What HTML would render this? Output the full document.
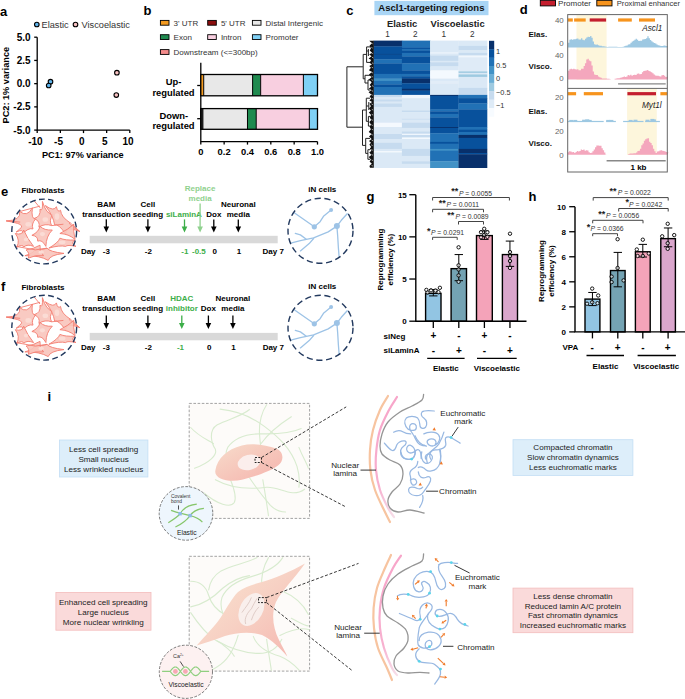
<!DOCTYPE html>
<html><head><meta charset="utf-8"><style>
html,body{margin:0;padding:0;background:#fff;}
svg{display:block;font-family:"Liberation Sans",sans-serif;}
</style></head><body>
<svg width="685" height="699" viewBox="0 0 685 699">
<text x="0" y="15.5" font-size="13" text-anchor="start" font-weight="bold" fill="#000"  >a</text>
<circle cx="36.8" cy="24.5" r="2.3" fill="#5fb4ec" stroke="#000" stroke-width="1.1"/>
<text x="41.6" y="27.6" font-size="9.2" text-anchor="start" font-weight="normal" fill="#333"  >Elastic</text>
<circle cx="75.5" cy="24.5" r="2.3" fill="#f9c2c2" stroke="#000" stroke-width="1.1"/>
<text x="81.6" y="27.6" font-size="9.2" text-anchor="start" font-weight="normal" fill="#333"  >Viscoelastic</text>
<path d="M37.2 37.2 V130.1 H129.8" fill="none" stroke="#000" stroke-width="1.3"/>
<line x1="34.2" y1="37.2" x2="37.2" y2="37.2" stroke="#000" stroke-width="1.3" />
<text x="30.6" y="40.7" font-size="10" text-anchor="end" font-weight="bold" fill="#000"  >5.0</text>
<line x1="34.2" y1="60.425" x2="37.2" y2="60.425" stroke="#000" stroke-width="1.3" />
<text x="30.6" y="63.925" font-size="10" text-anchor="end" font-weight="bold" fill="#000"  >2.5</text>
<line x1="34.2" y1="83.65" x2="37.2" y2="83.65" stroke="#000" stroke-width="1.3" />
<text x="30.6" y="87.15" font-size="10" text-anchor="end" font-weight="bold" fill="#000"  >0.0</text>
<line x1="34.2" y1="106.875" x2="37.2" y2="106.875" stroke="#000" stroke-width="1.3" />
<text x="30.6" y="110.375" font-size="10" text-anchor="end" font-weight="bold" fill="#000"  >-2.5</text>
<line x1="34.2" y1="130.1" x2="37.2" y2="130.1" stroke="#000" stroke-width="1.3" />
<text x="30.6" y="133.6" font-size="10" text-anchor="end" font-weight="bold" fill="#000"  >-5.0</text>
<line x1="37.2" y1="130.1" x2="37.2" y2="133.1" stroke="#000" stroke-width="1.3" />
<text x="35.400000000000006" y="144.8" font-size="10" text-anchor="middle" font-weight="bold" fill="#000"  >-10</text>
<line x1="60.35000000000001" y1="130.1" x2="60.35000000000001" y2="133.1" stroke="#000" stroke-width="1.3" />
<text x="58.55000000000001" y="144.8" font-size="10" text-anchor="middle" font-weight="bold" fill="#000"  >-5</text>
<line x1="83.5" y1="130.1" x2="83.5" y2="133.1" stroke="#000" stroke-width="1.3" />
<text x="81.7" y="144.8" font-size="10" text-anchor="middle" font-weight="bold" fill="#000"  >0</text>
<line x1="106.65" y1="130.1" x2="106.65" y2="133.1" stroke="#000" stroke-width="1.3" />
<text x="104.85000000000001" y="144.8" font-size="10" text-anchor="middle" font-weight="bold" fill="#000"  >5</text>
<line x1="129.8" y1="130.1" x2="129.8" y2="133.1" stroke="#000" stroke-width="1.3" />
<text x="128.0" y="144.8" font-size="10" text-anchor="middle" font-weight="bold" fill="#000"  >10</text>
<text x="82.8" y="158.4" font-size="9.2" text-anchor="middle" font-weight="bold" fill="#000"  >PC1: 97% variance</text>
<text x="0" y="0" font-size="9.2" text-anchor="middle" font-weight="bold" fill="#000"  transform="translate(9,85.2) rotate(-90)">PC2: 1% variance</text>
<circle cx="50.5" cy="81.7" r="2.3" fill="#5fb4ec" stroke="#000" stroke-width="1.1"/>
<circle cx="48.7" cy="85.5" r="2.3" fill="#5fb4ec" stroke="#000" stroke-width="1.1"/>
<circle cx="116.9" cy="72.7" r="2.3" fill="#f9c2c2" stroke="#000" stroke-width="1.1"/>
<circle cx="116.3" cy="95.1" r="2.3" fill="#f9c2c2" stroke="#000" stroke-width="1.1"/>
<text x="143.6" y="15.3" font-size="13" text-anchor="start" font-weight="bold" fill="#000"  >b</text>
<rect x="160.4" y="20.400000000000002" width="8.6" height="4.8" fill="#f39a1f" stroke="#000" stroke-width="0.9" />
<text x="173.6" y="25.6" font-size="8" text-anchor="start" font-weight="normal" fill="#333"  >3' UTR</text>
<rect x="207.7" y="20.400000000000002" width="8.6" height="4.8" fill="#8b0e0e" stroke="#000" stroke-width="0.9" />
<text x="220.89999999999998" y="25.6" font-size="8" text-anchor="start" font-weight="normal" fill="#333"  >5' UTR</text>
<rect x="252.4" y="20.400000000000002" width="8.6" height="4.8" fill="#e8e8e8" stroke="#000" stroke-width="0.9" />
<text x="265.6" y="25.6" font-size="8" text-anchor="start" font-weight="normal" fill="#333"  >Distal Intergenic</text>
<rect x="160.4" y="34.7" width="8.6" height="4.8" fill="#1f8a4f" stroke="#000" stroke-width="0.9" />
<text x="173.6" y="39.9" font-size="8" text-anchor="start" font-weight="normal" fill="#333"  >Exon</text>
<rect x="207.7" y="34.7" width="8.6" height="4.8" fill="#f8cfe0" stroke="#000" stroke-width="0.9" />
<text x="220.89999999999998" y="39.9" font-size="8" text-anchor="start" font-weight="normal" fill="#333"  >Intron</text>
<rect x="252.4" y="34.7" width="8.6" height="4.8" fill="#7fd0f5" stroke="#000" stroke-width="0.9" />
<text x="265.6" y="39.9" font-size="8" text-anchor="start" font-weight="normal" fill="#333"  >Promoter</text>
<rect x="160.4" y="49.6" width="8.6" height="4.8" fill="#f48c8c" stroke="#000" stroke-width="0.9" />
<text x="173.6" y="54.8" font-size="8" text-anchor="start" font-weight="normal" fill="#333"  >Downstream (&lt;=300bp)</text>
<path d="M200.8 62.8 V141.6 H317.5" fill="none" stroke="#000" stroke-width="1.3"/>
<line x1="200.8" y1="141.6" x2="200.8" y2="144.6" stroke="#000" stroke-width="1.3" />
<text x="200.8" y="154.6" font-size="9.4" text-anchor="middle" font-weight="bold" fill="#000"  >0</text>
<line x1="224.14000000000001" y1="141.6" x2="224.14000000000001" y2="144.6" stroke="#000" stroke-width="1.3" />
<text x="224.14000000000001" y="154.6" font-size="9.4" text-anchor="middle" font-weight="bold" fill="#000"  >0.2</text>
<line x1="247.48000000000002" y1="141.6" x2="247.48000000000002" y2="144.6" stroke="#000" stroke-width="1.3" />
<text x="247.48000000000002" y="154.6" font-size="9.4" text-anchor="middle" font-weight="bold" fill="#000"  >0.4</text>
<line x1="270.82" y1="141.6" x2="270.82" y2="144.6" stroke="#000" stroke-width="1.3" />
<text x="270.82" y="154.6" font-size="9.4" text-anchor="middle" font-weight="bold" fill="#000"  >0.6</text>
<line x1="294.15999999999997" y1="141.6" x2="294.15999999999997" y2="144.6" stroke="#000" stroke-width="1.3" />
<text x="294.15999999999997" y="154.6" font-size="9.4" text-anchor="middle" font-weight="bold" fill="#000"  >0.8</text>
<line x1="317.5" y1="141.6" x2="317.5" y2="144.6" stroke="#000" stroke-width="1.3" />
<text x="317.5" y="154.6" font-size="9.4" text-anchor="middle" font-weight="bold" fill="#000"  >1.0</text>
<line x1="197.20000000000002" y1="85.5" x2="200.8" y2="85.5" stroke="#000" stroke-width="1.3" />
<line x1="197.20000000000002" y1="118.7" x2="200.8" y2="118.7" stroke="#000" stroke-width="1.3" />
<text x="173.5" y="85" font-size="9.4" text-anchor="middle" font-weight="bold" fill="#000"  >Up-</text>
<text x="173.5" y="95.5" font-size="9.4" text-anchor="middle" font-weight="bold" fill="#000"  >regulated</text>
<text x="173.8" y="118.7" font-size="9.4" text-anchor="middle" font-weight="bold" fill="#000"  >Down-</text>
<text x="173.5" y="129.4" font-size="9.4" text-anchor="middle" font-weight="bold" fill="#000"  >regulated</text>
<rect x="200.8" y="74.5" width="2.9175" height="21.3" fill="#f39a1f" stroke="none" stroke-width="1" />
<rect x="203.7175" y="74.5" width="48.897299999999994" height="21.3" fill="#e8e8e8" stroke="none" stroke-width="1" />
<rect x="252.6148" y="74.5" width="8.0523" height="21.3" fill="#1f8a4f" stroke="none" stroke-width="1" />
<rect x="260.6671" y="74.5" width="42.712199999999996" height="21.3" fill="#f8cfe0" stroke="none" stroke-width="1" />
<rect x="303.3793" y="74.5" width="14.120699999999998" height="21.3" fill="#7fd0f5" stroke="none" stroke-width="1" />
<line x1="203.7175" y1="74.5" x2="203.7175" y2="95.8" stroke="#000" stroke-width="1" />
<line x1="252.6148" y1="74.5" x2="252.6148" y2="95.8" stroke="#000" stroke-width="1" />
<line x1="260.6671" y1="74.5" x2="260.6671" y2="95.8" stroke="#000" stroke-width="1" />
<line x1="303.3793" y1="74.5" x2="303.3793" y2="95.8" stroke="#000" stroke-width="1" />
<rect x="200.8" y="74.5" width="116.69999999999999" height="21.3" fill="none" stroke="#000" stroke-width="1.3" />
<rect x="200.8" y="108.6" width="2.1005999999999996" height="20.7" fill="#222" stroke="none" stroke-width="1" />
<rect x="202.9006" y="108.6" width="44.5794" height="20.7" fill="#e8e8e8" stroke="none" stroke-width="1" />
<rect x="247.48000000000002" y="108.6" width="8.7525" height="20.7" fill="#1f8a4f" stroke="none" stroke-width="1" />
<rect x="256.2325" y="108.6" width="53.098499999999994" height="20.7" fill="#f8cfe0" stroke="none" stroke-width="1" />
<rect x="309.331" y="108.6" width="8.169" height="20.7" fill="#7fd0f5" stroke="none" stroke-width="1" />
<line x1="202.9006" y1="108.6" x2="202.9006" y2="129.29999999999998" stroke="#000" stroke-width="1" />
<line x1="247.48000000000002" y1="108.6" x2="247.48000000000002" y2="129.29999999999998" stroke="#000" stroke-width="1" />
<line x1="256.2325" y1="108.6" x2="256.2325" y2="129.29999999999998" stroke="#000" stroke-width="1" />
<line x1="309.331" y1="108.6" x2="309.331" y2="129.29999999999998" stroke="#000" stroke-width="1" />
<rect x="200.8" y="108.6" width="116.69999999999999" height="20.7" fill="none" stroke="#000" stroke-width="1.3" />
<text x="346.2" y="14.6" font-size="13" text-anchor="start" font-weight="bold" fill="#000"  >c</text>
<rect x="374.4" y="0.9" width="114.1" height="14.3" fill="#a9d5f5" stroke="none" stroke-width="1" />
<text x="431.4" y="11" font-size="9.5" text-anchor="middle" font-weight="bold" fill="#111"  >Ascl1-targeting regions</text>
<text x="402.1" y="26.8" font-size="9.4" text-anchor="middle" font-weight="bold" fill="#222"  >Elastic</text>
<text x="457.6" y="26.8" font-size="9.4" text-anchor="middle" font-weight="bold" fill="#222"  >Viscoelastic</text>
<text x="387.5" y="37.3" font-size="8.2" text-anchor="middle" font-weight="normal" fill="#333"  >1</text>
<text x="415.3" y="37.3" font-size="8.2" text-anchor="middle" font-weight="normal" fill="#333"  >2</text>
<text x="443.9" y="37.3" font-size="8.2" text-anchor="middle" font-weight="normal" fill="#333"  >1</text>
<text x="472.2" y="37.3" font-size="8.2" text-anchor="middle" font-weight="normal" fill="#333"  >2</text>
<rect x="373.5" y="40.6" width="28.7" height="6.1" fill="#08306b"/>
<rect x="373.5" y="46.4" width="28.7" height="7.7" fill="#08519c"/>
<rect x="373.5" y="53.8" width="28.7" height="1.5" fill="#0a4a90"/>
<rect x="373.5" y="55" width="28.7" height="4.7" fill="#08519c"/>
<rect x="373.5" y="59.4" width="28.7" height="4.3" fill="#2171b5"/>
<rect x="373.5" y="63.4" width="28.7" height="10.8" fill="#08519c"/>
<rect x="373.5" y="73.9" width="28.7" height="5.0" fill="#2171b5"/>
<rect x="373.5" y="78.6" width="28.7" height="2.6" fill="#4292c6"/>
<rect x="373.5" y="80.9" width="28.7" height="3.8" fill="#2171b5"/>
<rect x="373.5" y="84.4" width="28.7" height="2.9" fill="#08519c"/>
<rect x="373.5" y="87" width="28.7" height="8.2" fill="#2171b5"/>
<rect x="373.5" y="94.9" width="28.7" height="2.7" fill="#c6dbef"/>
<rect x="373.5" y="97.3" width="28.7" height="2.4" fill="#dbe9f6"/>
<rect x="373.5" y="99.4" width="28.7" height="2.5" fill="#c6dbef"/>
<rect x="373.5" y="101.6" width="28.7" height="2.1" fill="#dbe9f6"/>
<rect x="373.5" y="103.4" width="28.7" height="3.8" fill="#c6dbef"/>
<rect x="373.5" y="106.9" width="28.7" height="16.1" fill="#dbe9f6"/>
<rect x="373.5" y="122.7" width="28.7" height="4.6" fill="#f4f9fe"/>
<rect x="373.5" y="127" width="28.7" height="7.3" fill="#dbe9f6"/>
<rect x="373.5" y="134" width="28.7" height="5.3" fill="#c6dbef"/>
<rect x="373.5" y="139" width="28.7" height="4.1" fill="#dbe9f6"/>
<rect x="373.5" y="142.8" width="28.7" height="6.4" fill="#c6dbef"/>
<rect x="373.5" y="148.9" width="28.7" height="2.6" fill="#dbe9f6"/>
<rect x="373.5" y="151.2" width="28.7" height="1.5" fill="#f4f9fe"/>
<rect x="373.5" y="152.4" width="28.7" height="15.6" fill="#dbe9f6"/>
<rect x="401.9" y="40.6" width="28.5" height="7.3" fill="#2171b5"/>
<rect x="401.9" y="47.6" width="28.5" height="1.6" fill="#08519c"/>
<rect x="401.9" y="48.9" width="28.5" height="2.0" fill="#2171b5"/>
<rect x="401.9" y="50.6" width="28.5" height="2.6" fill="#08519c"/>
<rect x="401.9" y="52.9" width="28.5" height="3.8" fill="#2171b5"/>
<rect x="401.9" y="56.4" width="28.5" height="7.3" fill="#08519c"/>
<rect x="401.9" y="63.4" width="28.5" height="7.3" fill="#2171b5"/>
<rect x="401.9" y="70.4" width="28.5" height="3.8" fill="#08519c"/>
<rect x="401.9" y="73.9" width="28.5" height="2.6" fill="#2171b5"/>
<rect x="401.9" y="76.2" width="28.5" height="2.7" fill="#08519c"/>
<rect x="401.9" y="78.6" width="28.5" height="4.9" fill="#08306b"/>
<rect x="401.9" y="83.2" width="28.5" height="5.9" fill="#08519c"/>
<rect x="401.9" y="88.8" width="28.5" height="2.1" fill="#08306b"/>
<rect x="401.9" y="90.6" width="28.5" height="4.6" fill="#08519c"/>
<rect x="401.9" y="94.9" width="28.5" height="3.5" fill="#f0f6fc"/>
<rect x="401.9" y="98.1" width="28.5" height="12.6" fill="#dbe9f6"/>
<rect x="401.9" y="110.4" width="28.5" height="2.0" fill="#c6dbef"/>
<rect x="401.9" y="112.1" width="28.5" height="6.5" fill="#dbe9f6"/>
<rect x="401.9" y="118.3" width="28.5" height="2.0" fill="#d0e2f3"/>
<rect x="401.9" y="120" width="28.5" height="3.0" fill="#dbe9f6"/>
<rect x="401.9" y="122.7" width="28.5" height="5.5" fill="#c6dbef"/>
<rect x="401.9" y="127.9" width="28.5" height="3.8" fill="#dbe9f6"/>
<rect x="401.9" y="131.4" width="28.5" height="2.6" fill="#c6dbef"/>
<rect x="401.9" y="133.7" width="28.5" height="1.5" fill="#f4f9fe"/>
<rect x="401.9" y="134.9" width="28.5" height="2.9" fill="#c6dbef"/>
<rect x="401.9" y="137.5" width="28.5" height="1.8" fill="#f4f9fe"/>
<rect x="401.9" y="139" width="28.5" height="10.2" fill="#dbe9f6"/>
<rect x="401.9" y="148.9" width="28.5" height="7.3" fill="#c6dbef"/>
<rect x="401.9" y="155.9" width="28.5" height="5.6" fill="#dbe9f6"/>
<rect x="401.9" y="161.2" width="28.5" height="2.9" fill="#c6dbef"/>
<rect x="401.9" y="163.8" width="28.5" height="4.2" fill="#dbe9f6"/>
<rect x="430.1" y="40.6" width="28.7" height="11.7" fill="#dbe9f6"/>
<rect x="430.1" y="52" width="28.7" height="2.1" fill="#e8f1fa"/>
<rect x="430.1" y="53.8" width="28.7" height="2.0" fill="#dbe9f6"/>
<rect x="430.1" y="55.5" width="28.7" height="5.6" fill="#c6dbef"/>
<rect x="430.1" y="60.8" width="28.7" height="1.7" fill="#dbe9f6"/>
<rect x="430.1" y="62.2" width="28.7" height="4.5" fill="#c6dbef"/>
<rect x="430.1" y="66.4" width="28.7" height="4.3" fill="#dbe9f6"/>
<rect x="430.1" y="70.4" width="28.7" height="8.5" fill="#f4f9fe"/>
<rect x="430.1" y="78.6" width="28.7" height="2.6" fill="#dbe9f6"/>
<rect x="430.1" y="80.9" width="28.7" height="3.3" fill="#e2edf8"/>
<rect x="430.1" y="83.9" width="28.7" height="11.3" fill="#dbe9f6"/>
<rect x="430.1" y="94.9" width="28.7" height="1.3" fill="#08306b"/>
<rect x="430.1" y="95.9" width="28.7" height="13.9" fill="#08519c"/>
<rect x="430.1" y="109.5" width="28.7" height="2.1" fill="#2171b5"/>
<rect x="430.1" y="111.3" width="28.7" height="2.9" fill="#08519c"/>
<rect x="430.1" y="113.9" width="28.7" height="3.8" fill="#2171b5"/>
<rect x="430.1" y="117.4" width="28.7" height="9.9" fill="#08519c"/>
<rect x="430.1" y="127" width="28.7" height="1.2" fill="#08306b"/>
<rect x="430.1" y="127.9" width="28.7" height="5.6" fill="#08519c"/>
<rect x="430.1" y="133.2" width="28.7" height="9.0" fill="#2171b5"/>
<rect x="430.1" y="141.9" width="28.7" height="2.1" fill="#08519c"/>
<rect x="430.1" y="143.7" width="28.7" height="5.5" fill="#2171b5"/>
<rect x="430.1" y="148.9" width="28.7" height="2.1" fill="#4292c6"/>
<rect x="430.1" y="150.7" width="28.7" height="10.8" fill="#2171b5"/>
<rect x="430.1" y="161.2" width="28.7" height="6.8" fill="#4292c6"/>
<rect x="458.5" y="40.6" width="28.8" height="5.6" fill="#dbe9f6"/>
<rect x="458.5" y="45.9" width="28.8" height="4.7" fill="#c6dbef"/>
<rect x="458.5" y="50.3" width="28.8" height="2.9" fill="#dbe9f6"/>
<rect x="458.5" y="52.9" width="28.8" height="2.9" fill="#c6dbef"/>
<rect x="458.5" y="55.5" width="28.8" height="2.1" fill="#f0f6fc"/>
<rect x="458.5" y="57.3" width="28.8" height="14.3" fill="#dfebf7"/>
<rect x="458.5" y="71.3" width="28.8" height="2.0" fill="#a6cde3"/>
<rect x="458.5" y="73" width="28.8" height="1.7" fill="#dbe9f6"/>
<rect x="458.5" y="74.4" width="28.8" height="2.8" fill="#9ecae1"/>
<rect x="458.5" y="76.9" width="28.8" height="11.3" fill="#dbe9f6"/>
<rect x="458.5" y="87.9" width="28.8" height="7.3" fill="#c6dbef"/>
<rect x="458.5" y="94.9" width="28.8" height="3.5" fill="#2171b5"/>
<rect x="458.5" y="98.1" width="28.8" height="5.6" fill="#08519c"/>
<rect x="458.5" y="103.4" width="28.8" height="6.4" fill="#2171b5"/>
<rect x="458.5" y="109.5" width="28.8" height="17.8" fill="#08519c"/>
<rect x="458.5" y="127" width="28.8" height="3.0" fill="#2171b5"/>
<rect x="458.5" y="129.7" width="28.8" height="2.6" fill="#08519c"/>
<rect x="458.5" y="132" width="28.8" height="3.2" fill="#2171b5"/>
<rect x="458.5" y="134.9" width="28.8" height="3.3" fill="#08306b"/>
<rect x="458.5" y="137.9" width="28.8" height="11.3" fill="#08519c"/>
<rect x="458.5" y="148.9" width="28.8" height="4.4" fill="#08306b"/>
<rect x="458.5" y="153" width="28.8" height="1.5" fill="#08519c"/>
<rect x="458.5" y="154.2" width="28.8" height="13.8" fill="#08306b"/>
<rect x="489" y="40.80" width="5.2" height="8.70" fill="#08306b"/>
<rect x="489" y="49.20" width="5.2" height="8.70" fill="#08519c"/>
<rect x="489" y="57.60" width="5.2" height="8.70" fill="#2171b5"/>
<rect x="489" y="66.00" width="5.2" height="8.70" fill="#4292c6"/>
<rect x="489" y="74.40" width="5.2" height="8.70" fill="#6baed6"/>
<rect x="489" y="82.80" width="5.2" height="8.70" fill="#9ecae1"/>
<rect x="489" y="91.20" width="5.2" height="8.70" fill="#c6dbef"/>
<rect x="489" y="99.60" width="5.2" height="8.70" fill="#deebf7"/>
<rect x="489" y="108.00" width="5.2" height="8.70" fill="#f7fbff"/>
<text x="496" y="53.7" font-size="7.4" text-anchor="start" font-weight="normal" fill="#333"  >1</text>
<text x="496" y="67.5" font-size="7.4" text-anchor="start" font-weight="normal" fill="#333"  >0.5</text>
<text x="496" y="81.3" font-size="7.4" text-anchor="start" font-weight="normal" fill="#333"  >0</text>
<text x="496" y="94.9" font-size="7.4" text-anchor="start" font-weight="normal" fill="#333"  >−0.5</text>
<text x="496" y="108.3" font-size="7.4" text-anchor="start" font-weight="normal" fill="#333"  >−1</text>
<path d="M362.9 66.8 H346.9 V127.2 H362.5 M363.2 54.4 V78.8 M363.2 54.4 H366.6 M366.6 46.9 V62.4 M366.6 46.9 H370 M366.6 62.4 H370 M363.2 78.8 H365 M365 75.3 V83 M365 75.3 H370 M365 83 H368 M368 80 V90 M368 80 H370 M368 90 H370 M366.6 51 H368.4 M368.4 49 V56 M362.5 110 V145.4 M362.5 110 H366.3 M366.3 98.2 V121.3 M366.3 98.2 H370 M366.3 121.3 H368.4 M368.4 116.4 V126.1 M368.4 116.4 H370 M368.4 126.1 H370 M362.5 145.4 H365.7 M365.7 138.4 V153.4 M365.7 138.4 H370 M365.7 153.4 H367.9 M367.9 149.7 V159.3 M367.9 149.7 H370 M367.9 159.3 H370 M366.3 106 H368.8 M368.8 102 V110 " fill="none" stroke="#222" stroke-width="1"/>
<polygon points="373.8,40.8 369.3,40.8 371.9,43.2 369.5,45.8 370.9,48.4 369.7,50.5 372.0,52.8 369.2,54.4 371.6,56.2 368.6,58.4 371.2,60.1 369.5,62.7 371.9,64.4 369.3,66.1 370.9,67.8 368.9,70.3 372.1,72.1 368.9,74.6 371.5,77.3 368.8,79.6 371.7,82.2 369.7,84.9 371.3,86.7 368.8,88.4 371.3,90.0 368.6,92.2 371.3,94.5 369.6,96.4 371.3,98.5 369.4,100.6 372.1,102.1 369.5,103.7 370.9,106.2 369.0,108.6 370.9,110.8 368.8,112.4 371.1,115.0 369.7,117.4 371.3,120.1 369.2,122.0 371.0,124.4 369.6,126.8 370.9,129.3 368.7,132.0 371.6,133.9 369.0,136.5 371.6,139.1 369.0,141.0 371.0,142.7 369.4,144.4 371.1,147.1 369.8,148.6 371.4,150.8 369.3,152.5 371.4,155.0 368.7,157.0 370.9,159.6 369.6,161.7 371.8,163.4 369.4,166.0 370.0,167.8 373.8,167.8" fill="#111"/>
<path d="M371.3 43.0 l1.4 0.8 M371.3 47.3 l1.4 0.8 M371.4 52.8 l1.4 0.8 M372.0 57.2 l1.4 0.8 M372.0 62.8 l1.4 0.8 M371.6 67.1 l1.4 0.8 M371.6 72.3 l1.4 0.8 M371.5 76.2 l1.4 0.8 M371.5 79.6 l1.4 0.8 M372.0 85.6 l1.4 0.8 M371.6 90.5 l1.4 0.8 M371.3 94.5 l1.4 0.8 M371.8 98.3 l1.4 0.8 M371.5 103.9 l1.4 0.8 M371.8 109.3 l1.4 0.8 M371.7 114.3 l1.4 0.8 M371.5 119.6 l1.4 0.8 M371.4 124.7 l1.4 0.8 M371.8 129.2 l1.4 0.8 M371.4 134.3 l1.4 0.8 M371.7 140.1 l1.4 0.8 M371.2 144.8 l1.4 0.8 M371.4 149.5 l1.4 0.8 M371.6 154.5 l1.4 0.8 M371.7 159.9 l1.4 0.8 M371.5 165.3 l1.4 0.8" stroke="#fff" stroke-width="0.6" fill="none"/>
<text x="519.8" y="13.9" font-size="13" text-anchor="start" font-weight="bold" fill="#000"  >d</text>
<rect x="540.3" y="0.3" width="15.2" height="5.6" fill="#c41e2e" stroke="#000" stroke-width="0.9" />
<text x="558.1" y="5.9" font-size="8" text-anchor="start" font-weight="normal" fill="#333"  >Promoter</text>
<rect x="596.8" y="0.3" width="15.2" height="5.6" fill="#f7941d" stroke="#000" stroke-width="0.9" />
<text x="616.8" y="5.9" font-size="7.6" text-anchor="start" font-weight="normal" fill="#333"  >Proximal enhancer</text>
<rect x="576.5" y="14.8" width="30.1" height="65.1" fill="#fdf6dc" stroke="none" stroke-width="1" />
<rect x="627.1" y="88.6" width="29.7" height="66.4" fill="#fdf6dc" stroke="none" stroke-width="1" />
<rect x="567.7" y="18.4" width="5.099999999999909" height="3.2" fill="#f7941d" stroke="none" stroke-width="1" />
<rect x="574.1" y="18.4" width="11.600000000000023" height="3.2" fill="#f7941d" stroke="none" stroke-width="1" />
<rect x="589.7" y="18.4" width="16.399999999999977" height="3.2" fill="#c41e2e" stroke="none" stroke-width="1" />
<rect x="618.1" y="18.4" width="13.699999999999932" height="3.2" fill="#f7941d" stroke="none" stroke-width="1" />
<rect x="639" y="18.4" width="16" height="3.2" fill="#f7941d" stroke="none" stroke-width="1" />
<rect x="567.7" y="92.1" width="8.399999999999977" height="3.2" fill="#f7941d" stroke="none" stroke-width="1" />
<rect x="583.8" y="92.1" width="19.200000000000045" height="3.2" fill="#f7941d" stroke="none" stroke-width="1" />
<rect x="627.4" y="92.1" width="28.600000000000023" height="3.2" fill="#c41e2e" stroke="none" stroke-width="1" />
<rect x="660.4" y="92.1" width="6.899999999999977" height="3.2" fill="#f7941d" stroke="none" stroke-width="1" />
<polygon points="568.03,47.42 568.03,42.63 569.33,42.63 569.33,39.68 570.63,39.68 570.63,39.24 571.93,39.24 571.93,39.82 573.23,39.82 573.23,39.34 574.53,39.34 574.53,39.21 575.83,39.21 575.83,38.73 577.13,38.73 577.13,38.50 578.43,38.50 578.43,39.47 579.73,39.47 579.73,39.51 581.03,39.51 581.03,38.20 582.33,38.20 582.33,39.78 583.63,39.78 583.63,40.26 584.93,40.26 584.93,38.78 586.23,38.78 586.23,37.51 587.53,37.51 587.53,36.78 588.83,36.78 588.83,36.92 590.13,36.92 590.13,35.94 591.43,35.94 591.43,37.77 592.73,37.77 592.73,41.59 594.03,41.59 594.03,44.20 595.33,44.20 595.33,44.63 596.63,44.63 596.63,44.44 597.93,44.44 597.93,45.33 599.23,45.33 599.23,45.71 600.53,45.71 600.53,45.73 601.83,45.73 601.83,46.22 603.13,46.22 603.13,46.27 604.43,46.27 604.43,46.43 605.73,46.43 605.73,46.73 607.03,46.73 607.03,46.92 608.33,46.92 608.33,46.72 609.63,46.72 609.63,46.72 610.93,46.72 610.93,46.63 612.23,46.63 612.23,46.69 613.53,46.69 613.53,46.82 614.83,46.82 614.83,46.63 616.13,46.63 616.13,46.81 617.43,46.81 617.43,46.88 618.73,46.88 618.73,47.08 620.03,47.08 620.03,47.10 621.33,47.10 621.33,47.11 622.63,47.11 622.63,46.82 623.93,46.82 623.93,46.33 625.23,46.33 625.23,45.73 626.53,45.73 626.53,45.38 627.83,45.38 627.83,44.56 629.13,44.56 629.13,44.18 630.43,44.18 630.43,42.63 631.73,42.63 631.73,41.61 633.03,41.61 633.03,40.83 634.33,40.83 634.33,39.72 635.63,39.72 635.63,38.79 636.93,38.79 636.93,39.69 638.23,39.69 638.23,41.01 639.53,41.01 639.53,40.77 640.83,40.77 640.83,40.63 642.13,40.63 642.13,39.38 643.43,39.38 643.43,39.25 644.73,39.25 644.73,38.97 646.03,38.97 646.03,38.13 647.33,38.13 647.33,36.30 648.63,36.30 648.63,38.33 649.93,38.33 649.93,40.00 651.23,40.00 651.23,41.29 652.53,41.29 652.53,42.15 653.83,42.15 653.83,43.02 655.13,43.02 655.13,43.52 656.43,43.52 656.43,44.54 657.73,44.54 657.73,45.32 659.03,45.32 659.03,45.45 660.33,45.45 660.33,45.97 661.63,45.97 661.63,46.06 662.93,46.06 662.93,45.67 664.23,45.67 664.23,45.58 665.53,45.58 665.53,45.95 666.83,45.95 666.83,46.17 668.13,46.17 667.27,47.42" fill="#9dc8e2"/>
<polygon points="568.03,79.54 568.03,70.73 569.33,70.73 569.33,69.13 570.63,69.13 570.63,68.69 571.93,68.69 571.93,69.14 573.23,69.14 573.23,68.76 574.53,68.76 574.53,69.28 575.83,69.28 575.83,69.45 577.13,69.45 577.13,69.34 578.43,69.34 578.43,70.31 579.73,70.31 579.73,70.24 581.03,70.24 581.03,68.65 582.33,68.65 582.33,68.76 583.63,68.76 583.63,65.95 584.93,65.95 584.93,63.16 586.23,63.16 586.23,59.59 587.53,59.59 587.53,58.82 588.83,58.82 588.83,60.38 590.13,60.38 590.13,61.22 591.43,61.22 591.43,65.41 592.73,65.41 592.73,71.60 594.03,71.60 594.03,74.40 595.33,74.40 595.33,74.98 596.63,74.98 596.63,75.07 597.93,75.07 597.93,76.51 599.23,76.51 599.23,77.33 600.53,77.33 600.53,77.71 601.83,77.71 601.83,78.54 603.13,78.54 603.13,78.54 604.43,78.54 604.43,78.55 605.73,78.55 605.73,78.61 607.03,78.61 607.03,78.78 608.33,78.78 608.33,78.87 609.63,78.87 609.63,79.19 610.93,79.19 610.93,79.50 612.23,79.50 611.07,79.54" fill="#f4a7bd"/>
<polygon points="614.60,79.54 614.60,78.87 615.90,78.87 615.90,78.38 617.20,78.38 617.20,78.20 618.50,78.20 618.50,78.25 619.80,78.25 619.80,77.76 621.10,77.76 621.10,77.48 622.40,77.48 622.40,76.93 623.70,76.93 623.70,76.41 625.00,76.41 625.00,76.95 626.30,76.95 626.30,76.58 627.60,76.58 627.60,75.03 628.90,75.03 628.90,75.40 630.20,75.40 630.20,74.74 631.50,74.74 631.50,75.74 632.80,75.74 632.80,75.12 634.10,75.12 634.10,74.67 635.40,74.67 635.40,75.04 636.70,75.04 636.70,73.71 638.00,73.71 638.00,73.45 639.30,73.45 639.30,74.34 640.60,74.34 640.60,73.89 641.90,73.89 641.90,72.31 643.20,72.31 643.20,70.88 644.50,70.88 644.50,70.80 645.80,70.80 645.80,70.48 647.10,70.48 647.10,69.93 648.40,69.93 648.40,70.93 649.70,70.93 649.70,71.55 651.00,71.55 651.00,72.29 652.30,72.29 652.30,73.21 653.60,73.21 653.60,74.55 654.90,74.55 654.90,75.45 656.20,75.45 656.20,75.80 657.50,75.80 657.50,75.78 658.80,75.78 658.80,76.14 660.10,76.14 660.10,76.51 661.40,76.51 661.40,75.26 662.70,75.26 662.70,75.00 664.00,75.00 664.00,75.66 665.30,75.66 665.30,77.11 666.60,77.11 666.60,76.65 667.90,76.65 667.27,79.54" fill="#f4a7bd"/>
<rect x="567.7083667897864" y="120.9" width="35.97237835233659" height="1.2" fill="#9dc8e2" stroke="none" stroke-width="1" />
<rect x="606.0896097639313" y="120.9" width="9.796049462020164" height="1.2" fill="#9dc8e2" stroke="none" stroke-width="1" />
<rect x="623.1122530913763" y="120.9" width="20.395053797976516" height="1.2" fill="#9dc8e2" stroke="none" stroke-width="1" />
<rect x="645.1132166372249" y="120.9" width="14.774369680424002" height="1.2" fill="#9dc8e2" stroke="none" stroke-width="1" />
<rect x="569.2413682351051" y="119.9" width="4" height="1.2" fill="#9dc8e2" stroke="none" stroke-width="1" />
<rect x="573.2561426047856" y="119.9" width="4" height="1.2" fill="#9dc8e2" stroke="none" stroke-width="1" />
<rect x="582.0886462180825" y="119.7" width="4" height="1.4" fill="#9dc8e2" stroke="none" stroke-width="1" />
<rect x="585.3004657138268" y="119.30000000000001" width="4" height="1.8" fill="#9dc8e2" stroke="none" stroke-width="1" />
<rect x="587.7093303356352" y="119.9" width="4" height="1.2" fill="#9dc8e2" stroke="none" stroke-width="1" />
<rect x="606.1772924361651" y="119.9" width="4" height="1.2" fill="#9dc8e2" stroke="none" stroke-width="1" />
<rect x="609.3891119319094" y="119.9" width="4" height="1.2" fill="#9dc8e2" stroke="none" stroke-width="1" />
<rect x="628.6600289063755" y="119.9" width="4" height="1.2" fill="#9dc8e2" stroke="none" stroke-width="1" />
<rect x="633.4777581499919" y="119.7" width="4" height="1.4" fill="#9dc8e2" stroke="none" stroke-width="1" />
<rect x="645.5220812590333" y="119.7" width="4" height="1.4" fill="#9dc8e2" stroke="none" stroke-width="1" />
<rect x="650.3398105026497" y="118.9" width="4" height="2.2" fill="#9dc8e2" stroke="none" stroke-width="1" />
<rect x="651.945720250522" y="119.4" width="4" height="1.7" fill="#9dc8e2" stroke="none" stroke-width="1" />
<polygon points="567.71,154.73 567.71,152.34 569.01,152.34 569.01,151.37 570.31,151.37 570.31,151.49 571.61,151.49 571.61,152.17 572.91,152.17 572.91,151.90 574.21,151.90 574.21,152.97 575.51,152.97 575.51,152.11 576.81,152.11 576.81,151.06 578.11,151.06 578.11,151.39 579.41,151.39 579.41,150.88 580.71,150.88 580.71,149.62 582.01,149.62 582.01,150.06 583.31,150.06 583.31,149.61 584.61,149.61 584.61,150.78 585.91,150.78 585.91,150.27 587.21,150.27 587.21,150.49 588.51,150.49 588.51,152.21 589.81,152.21 589.81,153.05 591.11,153.05 591.11,152.75 592.41,152.75 592.41,151.31 593.71,151.31 593.71,149.58 595.01,149.58 595.01,147.29 596.31,147.29 596.31,145.43 597.61,145.43 597.61,145.58 598.91,145.58 598.91,145.82 600.21,145.82 600.21,145.63 601.51,145.63 601.51,148.35 602.81,148.35 602.81,150.33 604.11,150.33 604.11,152.60 605.41,152.60 605.41,154.52 606.71,154.52 605.77,154.73" fill="#f4a7bd"/>
<polygon points="628.25,154.73 628.25,153.93 629.55,153.93 629.55,153.48 630.85,153.48 630.85,153.39 632.15,153.39 632.15,153.57 633.45,153.57 633.45,153.31 634.75,153.31 634.75,153.23 636.05,153.23 636.05,152.46 637.35,152.46 637.35,151.04 638.65,151.04 638.65,150.84 639.95,150.84 639.95,148.69 641.25,148.69 641.25,145.28 642.55,145.28 642.55,143.51 643.85,143.51 643.85,140.64 645.15,140.64 645.15,139.36 646.45,139.36 646.45,138.48 647.75,138.48 647.75,138.34 649.05,138.34 649.05,141.63 650.35,141.63 650.35,142.92 651.65,142.92 651.65,145.26 652.95,145.26 652.95,148.84 654.25,148.84 654.25,151.32 655.55,151.32 655.55,153.10 656.85,153.10 656.85,151.55 658.15,151.55 658.15,151.21 659.45,151.21 659.45,150.40 660.75,150.40 660.75,150.14 662.05,150.14 662.05,150.82 663.35,150.82 663.35,151.01 664.65,151.01 664.65,151.57 665.95,151.57 665.95,151.97 667.25,151.97 667.25,152.48 668.55,152.48 667.27,154.73" fill="#f4a7bd"/>
<rect x="567.7" y="14.6" width="99.6" height="157.4" fill="none" stroke="#666" stroke-width="1" />
<line x1="567.7" y1="88.4" x2="667.3" y2="88.4" stroke="#666" stroke-width="1" />
<line x1="618.1" y1="83.9" x2="665.7" y2="83.9" stroke="#888" stroke-width="1.4" />
<line x1="606.6" y1="160.7" x2="665.7" y2="160.7" stroke="#888" stroke-width="1.4" />
<text x="638.5" y="169.5" font-size="8" text-anchor="middle" font-weight="bold" fill="#000"  >1 kb</text>
<text x="662.3" y="31.4" font-size="8.2" text-anchor="end" font-weight="normal" fill="#222"  font-style="italic">Ascl1</text>
<text x="661.6" y="107.5" font-size="8.2" text-anchor="end" font-weight="normal" fill="#222"  font-style="italic">Myt1l</text>
<text x="563.7" y="23.400000000000002" font-size="7.9" text-anchor="end" font-weight="normal" fill="#666"  >40</text>
<text x="563.7" y="45.9" font-size="7.9" text-anchor="end" font-weight="normal" fill="#666"  >0</text>
<text x="563.7" y="57.5" font-size="7.9" text-anchor="end" font-weight="normal" fill="#666"  >40</text>
<text x="563.7" y="80.7" font-size="7.9" text-anchor="end" font-weight="normal" fill="#666"  >0</text>
<text x="563.7" y="100.1" font-size="7.9" text-anchor="end" font-weight="normal" fill="#666"  >20</text>
<text x="563.7" y="122.8" font-size="7.9" text-anchor="end" font-weight="normal" fill="#666"  >0</text>
<text x="563.7" y="134.20000000000002" font-size="7.9" text-anchor="end" font-weight="normal" fill="#666"  >20</text>
<text x="563.7" y="157.5" font-size="7.9" text-anchor="end" font-weight="normal" fill="#666"  >0</text>
<text x="528.5" y="37" font-size="8" text-anchor="start" font-weight="bold" fill="#111"  >Elas.</text>
<text x="528.5" y="69.3" font-size="8" text-anchor="start" font-weight="bold" fill="#111"  >Visco.</text>
<text x="528.5" y="114" font-size="8" text-anchor="start" font-weight="bold" fill="#111"  >Elas.</text>
<text x="528.5" y="146.3" font-size="8" text-anchor="start" font-weight="bold" fill="#111"  >Visco.</text>
<text x="1" y="195.8" font-size="13" text-anchor="start" font-weight="bold" fill="#000"  >e</text>
<text x="43" y="193.3" font-size="8" text-anchor="middle" font-weight="bold" fill="#000"  >Fibroblasts</text>
<g>
<path d="M6.2,220.9 Q21.4,220.6 19.6,211.4 Q27.3,217.6 32.4,207.8 Q30.9,219.3 35.6,218.9 Q31.0,224.1 33.0,228.9 Q28.1,227.5 22.5,234.1 Q24.3,228.2 16.1,232.1 Q23.9,226.2 20.8,225.4 Q21.7,223.7 6.2,220.9Z" fill="#f8c4bb" fill-opacity="0.9" stroke="#f47d71" stroke-width="0.9" stroke-linejoin="round"/>
<path d="M42.4,201.4 Q43.0,212.7 40.0,209.0 Q40.9,216.9 34.2,218.4 Q40.6,221.4 38.9,227.1 Q45.0,223.2 51.7,225.6 Q48.5,220.2 52.9,214.9 Q46.2,214.1 42.4,201.4Z" fill="#f8c4bb" fill-opacity="0.9" stroke="#f47d71" stroke-width="0.9" stroke-linejoin="round"/>
<path d="M45.3,205.5 Q53.9,211.9 56.4,206.7 Q57.7,213.1 60.5,210.2 Q61.2,217.2 70.4,223.0 Q66.0,222.5 79.7,231.4 Q64.9,225.3 65.7,234.1 Q58.6,223.6 54.6,224.8 Q53.5,216.5 45.3,205.5Z" fill="#f8c4bb" fill-opacity="0.9" stroke="#f47d71" stroke-width="0.9" stroke-linejoin="round"/>
<path d="M31.9,235.3 Q38.8,232.0 40.0,226.3 Q44.5,230.6 52.3,230.0 Q46.1,236.1 45.9,246.4 Q42.1,239.2 37.7,241.1 Q38.2,236.1 31.9,235.3Z" fill="#f8c4bb" fill-opacity="0.9" stroke="#f47d71" stroke-width="0.9" stroke-linejoin="round"/>
<path d="M48.8,248.1 Q58.2,242.8 59.9,238.2 Q65.4,240.5 75.1,240.0 Q69.8,242.8 76.0,246.4 Q67.2,244.5 65.7,246.4 Q59.8,245.0 48.8,248.1Z" fill="#f8c4bb" fill-opacity="0.9" stroke="#f47d71" stroke-width="0.9" stroke-linejoin="round"/>
<path d="M24.9,255.7 Q36.5,252.4 34.2,248.1 Q42.1,250.5 47.0,248.1 Q49.5,251.8 64.0,253.4 Q49.8,254.9 48.2,260.4 Q40.0,255.4 24.9,255.7Z" fill="#f8c4bb" fill-opacity="0.9" stroke="#f47d71" stroke-width="0.9" stroke-linejoin="round"/>
<path d="M15.3,233.5 Q22.4,235.5 23.7,230.0 Q27.5,239.0 33.6,246.4 Q27.5,243.7 23.7,247.0 Q22.8,243.9 16.7,247.3 Q20.5,240.2 15.3,233.5Z" fill="#f8c4bb" fill-opacity="0.9" stroke="#f47d71" stroke-width="0.9" stroke-linejoin="round"/>
<path d="M59.9,233.5 Q68.3,229.3 73.9,224.2 Q72.9,231.1 75.1,239.4 Q68.6,233.9 59.9,233.5Z" fill="#f8c4bb" fill-opacity="0.9" stroke="#f47d71" stroke-width="0.9" stroke-linejoin="round"/>
<path d="M26.0,249.9 Q33.5,249.0 40.0,245.2 Q38.8,250.7 43.5,255.7 Q35.2,254.6 28.4,258.1 Q30.0,252.8 26.0,249.9Z" fill="#f8c4bb" fill-opacity="0.9" stroke="#f47d71" stroke-width="0.9" stroke-linejoin="round"/>
<ellipse cx="28.4" cy="224.2" rx="3.0" ry="2.3" fill="#fbdcd5"/>
<ellipse cx="45.3" cy="219.5" rx="2.8" ry="2.3" fill="#fbdcd5"/>
<ellipse cx="57.0" cy="216.6" rx="2.3" ry="3.3" fill="#fbdcd5"/>
<ellipse cx="42.4" cy="234.1" rx="2.6" ry="2.1" fill="#fbdcd5"/>
<ellipse cx="62.2" cy="242.3" rx="3.3" ry="1.9" fill="#fbdcd5"/>
<ellipse cx="41.2" cy="252.2" rx="2.8" ry="1.6" fill="#fbdcd5"/>
<ellipse cx="26.0" cy="239.4" rx="2.1" ry="1.9" fill="#fbdcd5"/>
<polyline points="6.2,220.9 20.2,222.1" fill="none" stroke="#f47d71" stroke-width="0.9"/>
<polyline points="70.4,223.0 79.7,231.4" fill="none" stroke="#f47d71" stroke-width="0.9"/>
<polyline points="34.2,200.8 40.0,207.8" fill="none" stroke="#f47d71" stroke-width="0.9"/>
<polyline points="16.1,246.4 35.4,249.9 47.0,248.1" fill="none" stroke="#f47d71" stroke-width="0.9"/>
<polyline points="20.2,211.4 40.0,206.1" fill="none" stroke="#f47d71" stroke-width="0.9"/>
<polyline points="51.7,225.6 63.4,224.2" fill="none" stroke="#f47d71" stroke-width="0.9"/>
</g>
<circle cx="44.2" cy="231.5" r="32.4" fill="none" stroke="#22395e" stroke-width="1.4" stroke-dasharray="5.8 3.4"/>
<text x="106.4" y="207" font-size="8" text-anchor="middle" font-weight="bold" fill="#000"  >BAM</text>
<text x="106.4" y="216.8" font-size="8" text-anchor="middle" font-weight="bold" fill="#000"  >transduction</text>
<text x="147.9" y="207" font-size="8" text-anchor="middle" font-weight="bold" fill="#000"  >Cell</text>
<text x="147.9" y="216.8" font-size="8" text-anchor="middle" font-weight="bold" fill="#000"  >seeding</text>
<text x="183.9" y="216.8" font-size="8" text-anchor="middle" font-weight="bold" fill="#3dae49"  >siLaminA</text>
<text x="200.1" y="191" font-size="8" text-anchor="middle" font-weight="bold" fill="#8fd18e"  >Replace</text>
<text x="200.1" y="201" font-size="8" text-anchor="middle" font-weight="bold" fill="#8fd18e"  >media</text>
<text x="213.8" y="216.8" font-size="8" text-anchor="middle" font-weight="bold" fill="#000"  >Dox</text>
<text x="238.3" y="207" font-size="8" text-anchor="middle" font-weight="bold" fill="#000"  >Neuronal</text>
<text x="238.3" y="216.8" font-size="8" text-anchor="middle" font-weight="bold" fill="#000"  >media</text>
<line x1="106.3" y1="219.2" x2="106.3" y2="228.6" stroke="#000" stroke-width="1.3"/>
<polygon points="103.5,226.6 109.1,226.6 106.3,232.6" fill="#000"/>
<line x1="147.9" y1="219.2" x2="147.9" y2="228.6" stroke="#000" stroke-width="1.3"/>
<polygon points="145.1,226.6 150.70000000000002,226.6 147.9,232.6" fill="#000"/>
<line x1="184.5" y1="219.4" x2="184.5" y2="228.6" stroke="#3dae49" stroke-width="1.3"/>
<polygon points="181.7,226.6 187.3,226.6 184.5,232.6" fill="#3dae49"/>
<line x1="200.1" y1="203.5" x2="200.1" y2="228.6" stroke="#8fd18e" stroke-width="1.3"/>
<polygon points="197.29999999999998,226.6 202.9,226.6 200.1,232.6" fill="#8fd18e"/>
<line x1="213.8" y1="219.4" x2="213.8" y2="228.6" stroke="#000" stroke-width="1.3"/>
<polygon points="211.0,226.6 216.60000000000002,226.6 213.8,232.6" fill="#000"/>
<line x1="238.3" y1="219.4" x2="238.3" y2="228.6" stroke="#000" stroke-width="1.3"/>
<polygon points="235.5,226.6 241.10000000000002,226.6 238.3,232.6" fill="#000"/>
<rect x="89.7" y="235.8" width="188" height="7.5" fill="#d9d9d9" stroke="none" stroke-width="1" />
<text x="80.9" y="253.6" font-size="8" text-anchor="start" font-weight="bold" fill="#000"  >Day</text>
<text x="106.3" y="253.6" font-size="8" text-anchor="middle" font-weight="bold" fill="#000"  >-3</text>
<text x="148.3" y="253.6" font-size="8" text-anchor="middle" font-weight="bold" fill="#000"  >-2</text>
<text x="184.9" y="253.6" font-size="8" text-anchor="middle" font-weight="bold" fill="#3dae49"  >-1</text>
<text x="198.9" y="253.6" font-size="8" text-anchor="middle" font-weight="bold" fill="#3dae49"  >-0.5</text>
<text x="214.7" y="253.6" font-size="8" text-anchor="middle" font-weight="bold" fill="#000"  >0</text>
<text x="238.9" y="253.6" font-size="8" text-anchor="middle" font-weight="bold" fill="#000"  >1</text>
<text x="283.9" y="253.6" font-size="8" text-anchor="end" font-weight="bold" fill="#000"  >Day 7</text>
<text x="322.3" y="192.3" font-size="8" text-anchor="middle" font-weight="bold" fill="#000"  >iN cells</text>
<path d="M294.6,213.0 L314.3,226.8" fill="none" stroke="#9dc3e6" stroke-width="1.3" stroke-linecap="round" stroke-linejoin="round"/>
<path d="M314.3,226.8 L320.1,221.7 L323.8,215.9 L331.1,210.0" fill="none" stroke="#9dc3e6" stroke-width="1.3" stroke-linecap="round" stroke-linejoin="round"/>
<path d="M336.9,226.1 L341.3,220.3 L347.2,213.7" fill="none" stroke="#9dc3e6" stroke-width="1.3" stroke-linecap="round" stroke-linejoin="round"/>
<path d="M336.9,226.1 L337.7,236.3 L338.4,248.0 L339.1,256.8" fill="none" stroke="#9dc3e6" stroke-width="1.3" stroke-linecap="round" stroke-linejoin="round"/>
<path d="M336.9,226.1 L328.2,231.9 L313.6,237.8 L300.4,240.7 L291.7,242.9" fill="none" stroke="#9dc3e6" stroke-width="1.3" stroke-linecap="round" stroke-linejoin="round"/>
<path d="M313.6,238.5 L309.2,243.6 L300.4,250.9" fill="none" stroke="#9dc3e6" stroke-width="1.3" stroke-linecap="round" stroke-linejoin="round"/>
<path d="M306.3,239.2 L300.4,234.9 L295.3,233.4" fill="none" stroke="#9dc3e6" stroke-width="1.3" stroke-linecap="round" stroke-linejoin="round"/>
<circle cx="314.3" cy="226.8" r="2.6" fill="#9dc3e6"/>
<circle cx="336.9" cy="226.1" r="3.0" fill="#9dc3e6"/>
<circle cx="331.1" cy="210.0" r="2.0" fill="#9dc3e6"/>
<circle cx="320.5" cy="230.8" r="32.5" fill="none" stroke="#22395e" stroke-width="1.4" stroke-dasharray="6.2 3.6"/>
<text x="1" y="290.5" font-size="13" text-anchor="start" font-weight="bold" fill="#000"  >f</text>
<text x="43" y="290.2" font-size="8" text-anchor="middle" font-weight="bold" fill="#000"  >Fibroblasts</text>
<g>
<path d="M6.2,317.1 Q21.4,316.8 19.6,307.6 Q27.3,313.8 32.4,304.0 Q30.9,315.5 35.6,315.1 Q31.0,320.3 33.0,325.1 Q28.1,323.7 22.5,330.3 Q24.3,324.4 16.1,328.3 Q23.9,322.4 20.8,321.6 Q21.7,319.9 6.2,317.1Z" fill="#f8c4bb" fill-opacity="0.9" stroke="#f47d71" stroke-width="0.9" stroke-linejoin="round"/>
<path d="M42.4,297.6 Q43.0,308.9 40.0,305.2 Q40.9,313.1 34.2,314.6 Q40.6,317.6 38.9,323.3 Q45.0,319.4 51.7,321.8 Q48.5,316.4 52.9,311.1 Q46.2,310.3 42.4,297.6Z" fill="#f8c4bb" fill-opacity="0.9" stroke="#f47d71" stroke-width="0.9" stroke-linejoin="round"/>
<path d="M45.3,301.7 Q53.9,308.1 56.4,302.9 Q57.7,309.3 60.5,306.4 Q61.2,313.4 70.4,319.2 Q66.0,318.7 79.7,327.6 Q64.9,321.5 65.7,330.3 Q58.6,319.8 54.6,321.0 Q53.5,312.7 45.3,301.7Z" fill="#f8c4bb" fill-opacity="0.9" stroke="#f47d71" stroke-width="0.9" stroke-linejoin="round"/>
<path d="M31.9,331.5 Q38.8,328.2 40.0,322.5 Q44.5,326.8 52.3,326.2 Q46.1,332.3 45.9,342.6 Q42.1,335.4 37.7,337.3 Q38.2,332.3 31.9,331.5Z" fill="#f8c4bb" fill-opacity="0.9" stroke="#f47d71" stroke-width="0.9" stroke-linejoin="round"/>
<path d="M48.8,344.3 Q58.2,339.0 59.9,334.4 Q65.4,336.7 75.1,336.2 Q69.8,339.0 76.0,342.6 Q67.2,340.7 65.7,342.6 Q59.8,341.2 48.8,344.3Z" fill="#f8c4bb" fill-opacity="0.9" stroke="#f47d71" stroke-width="0.9" stroke-linejoin="round"/>
<path d="M24.9,351.9 Q36.5,348.6 34.2,344.3 Q42.1,346.7 47.0,344.3 Q49.5,348.0 64.0,349.6 Q49.8,351.1 48.2,356.6 Q40.0,351.6 24.9,351.9Z" fill="#f8c4bb" fill-opacity="0.9" stroke="#f47d71" stroke-width="0.9" stroke-linejoin="round"/>
<path d="M15.3,329.7 Q22.4,331.7 23.7,326.2 Q27.5,335.2 33.6,342.6 Q27.5,339.9 23.7,343.2 Q22.8,340.1 16.7,343.5 Q20.5,336.4 15.3,329.7Z" fill="#f8c4bb" fill-opacity="0.9" stroke="#f47d71" stroke-width="0.9" stroke-linejoin="round"/>
<path d="M59.9,329.7 Q68.3,325.5 73.9,320.4 Q72.9,327.3 75.1,335.6 Q68.6,330.1 59.9,329.7Z" fill="#f8c4bb" fill-opacity="0.9" stroke="#f47d71" stroke-width="0.9" stroke-linejoin="round"/>
<path d="M26.0,346.1 Q33.5,345.2 40.0,341.4 Q38.8,346.9 43.5,351.9 Q35.2,350.8 28.4,354.3 Q30.0,349.0 26.0,346.1Z" fill="#f8c4bb" fill-opacity="0.9" stroke="#f47d71" stroke-width="0.9" stroke-linejoin="round"/>
<ellipse cx="28.4" cy="320.4" rx="3.0" ry="2.3" fill="#fbdcd5"/>
<ellipse cx="45.3" cy="315.7" rx="2.8" ry="2.3" fill="#fbdcd5"/>
<ellipse cx="57.0" cy="312.8" rx="2.3" ry="3.3" fill="#fbdcd5"/>
<ellipse cx="42.4" cy="330.3" rx="2.6" ry="2.1" fill="#fbdcd5"/>
<ellipse cx="62.2" cy="338.5" rx="3.3" ry="1.9" fill="#fbdcd5"/>
<ellipse cx="41.2" cy="348.4" rx="2.8" ry="1.6" fill="#fbdcd5"/>
<ellipse cx="26.0" cy="335.6" rx="2.1" ry="1.9" fill="#fbdcd5"/>
<polyline points="6.2,317.1 20.2,318.3" fill="none" stroke="#f47d71" stroke-width="0.9"/>
<polyline points="70.4,319.2 79.7,327.6" fill="none" stroke="#f47d71" stroke-width="0.9"/>
<polyline points="34.2,297.0 40.0,304.0" fill="none" stroke="#f47d71" stroke-width="0.9"/>
<polyline points="16.1,342.6 35.4,346.1 47.0,344.3" fill="none" stroke="#f47d71" stroke-width="0.9"/>
<polyline points="20.2,307.6 40.0,302.3" fill="none" stroke="#f47d71" stroke-width="0.9"/>
<polyline points="51.7,321.8 63.4,320.4" fill="none" stroke="#f47d71" stroke-width="0.9"/>
</g>
<circle cx="44.2" cy="327.7" r="32.4" fill="none" stroke="#22395e" stroke-width="1.4" stroke-dasharray="5.8 3.4"/>
<text x="106.4" y="300.9" font-size="8" text-anchor="middle" font-weight="bold" fill="#000"  >BAM</text>
<text x="106.4" y="310.7" font-size="8" text-anchor="middle" font-weight="bold" fill="#000"  >transduction</text>
<text x="147.9" y="300.9" font-size="8" text-anchor="middle" font-weight="bold" fill="#000"  >Cell</text>
<text x="147.9" y="310.7" font-size="8" text-anchor="middle" font-weight="bold" fill="#000"  >seeding</text>
<text x="181.8" y="300.9" font-size="8" text-anchor="middle" font-weight="bold" fill="#3dae49"  >HDAC</text>
<text x="181.8" y="310.6" font-size="8" text-anchor="middle" font-weight="bold" fill="#3dae49"  >inhibitor</text>
<text x="208.4" y="310.6" font-size="8" text-anchor="middle" font-weight="bold" fill="#000"  >Dox</text>
<text x="232.9" y="300.9" font-size="8" text-anchor="middle" font-weight="bold" fill="#000"  >Neuronal</text>
<text x="232.9" y="310.6" font-size="8" text-anchor="middle" font-weight="bold" fill="#000"  >media</text>
<line x1="106.3" y1="315.5" x2="106.3" y2="324.9" stroke="#000" stroke-width="1.3"/>
<polygon points="103.5,322.9 109.1,322.9 106.3,328.9" fill="#000"/>
<line x1="147.9" y1="315.5" x2="147.9" y2="324.9" stroke="#000" stroke-width="1.3"/>
<polygon points="145.1,322.9 150.70000000000002,322.9 147.9,328.9" fill="#000"/>
<line x1="181.8" y1="315.5" x2="181.8" y2="324.9" stroke="#3dae49" stroke-width="1.3"/>
<polygon points="179.0,322.9 184.60000000000002,322.9 181.8,328.9" fill="#3dae49"/>
<line x1="208.4" y1="315.5" x2="208.4" y2="324.9" stroke="#000" stroke-width="1.3"/>
<polygon points="205.6,322.9 211.20000000000002,322.9 208.4,328.9" fill="#000"/>
<line x1="232.9" y1="315.5" x2="232.9" y2="324.9" stroke="#000" stroke-width="1.3"/>
<polygon points="230.1,322.9 235.70000000000002,322.9 232.9,328.9" fill="#000"/>
<rect x="89.7" y="332.9" width="188" height="7.4" fill="#d9d9d9" stroke="none" stroke-width="1" />
<text x="80.9" y="350.3" font-size="8" text-anchor="start" font-weight="bold" fill="#000"  >Day</text>
<text x="106.3" y="350.3" font-size="8" text-anchor="middle" font-weight="bold" fill="#000"  >-3</text>
<text x="148.3" y="350.3" font-size="8" text-anchor="middle" font-weight="bold" fill="#000"  >-2</text>
<text x="180.5" y="350.3" font-size="8" text-anchor="middle" font-weight="bold" fill="#3dae49"  >-1</text>
<text x="209.3" y="350.3" font-size="8" text-anchor="middle" font-weight="bold" fill="#000"  >0</text>
<text x="233.4" y="350.3" font-size="8" text-anchor="middle" font-weight="bold" fill="#000"  >1</text>
<text x="284" y="350.3" font-size="8" text-anchor="end" font-weight="bold" fill="#000"  >Day 7</text>
<text x="322.3" y="289.2" font-size="8" text-anchor="middle" font-weight="bold" fill="#000"  >iN cells</text>
<path d="M294.6,310.0 L314.3,323.8" fill="none" stroke="#9dc3e6" stroke-width="1.3" stroke-linecap="round" stroke-linejoin="round"/>
<path d="M314.3,323.8 L320.1,318.7 L323.8,312.9 L331.1,307.0" fill="none" stroke="#9dc3e6" stroke-width="1.3" stroke-linecap="round" stroke-linejoin="round"/>
<path d="M336.9,323.1 L341.3,317.3 L347.2,310.7" fill="none" stroke="#9dc3e6" stroke-width="1.3" stroke-linecap="round" stroke-linejoin="round"/>
<path d="M336.9,323.1 L337.7,333.3 L338.4,345.0 L339.1,353.8" fill="none" stroke="#9dc3e6" stroke-width="1.3" stroke-linecap="round" stroke-linejoin="round"/>
<path d="M336.9,323.1 L328.2,328.9 L313.6,334.8 L300.4,337.7 L291.7,339.9" fill="none" stroke="#9dc3e6" stroke-width="1.3" stroke-linecap="round" stroke-linejoin="round"/>
<path d="M313.6,335.5 L309.2,340.6 L300.4,347.9" fill="none" stroke="#9dc3e6" stroke-width="1.3" stroke-linecap="round" stroke-linejoin="round"/>
<path d="M306.3,336.2 L300.4,331.9 L295.3,330.4" fill="none" stroke="#9dc3e6" stroke-width="1.3" stroke-linecap="round" stroke-linejoin="round"/>
<circle cx="314.3" cy="323.8" r="2.6" fill="#9dc3e6"/>
<circle cx="336.9" cy="323.1" r="3.0" fill="#9dc3e6"/>
<circle cx="331.1" cy="307.0" r="2.0" fill="#9dc3e6"/>
<circle cx="320.5" cy="327.8" r="32.5" fill="none" stroke="#22395e" stroke-width="1.4" stroke-dasharray="6.2 3.6"/>
<text x="366.5" y="201.3" font-size="13" text-anchor="start" font-weight="bold" fill="#000"  >g</text>
<line x1="409.3" y1="321.2" x2="415.8" y2="321.2" stroke="#000" stroke-width="1.3" />
<text x="406.8" y="324.09999999999997" font-size="8" text-anchor="end" font-weight="bold" fill="#000"  >0</text>
<line x1="409.3" y1="279.0333333333333" x2="415.8" y2="279.0333333333333" stroke="#000" stroke-width="1.3" />
<text x="406.8" y="281.9333333333333" font-size="8" text-anchor="end" font-weight="bold" fill="#000"  >5</text>
<line x1="409.3" y1="236.86666666666665" x2="415.8" y2="236.86666666666665" stroke="#000" stroke-width="1.3" />
<text x="406.8" y="239.76666666666665" font-size="8" text-anchor="end" font-weight="bold" fill="#000"  >10</text>
<line x1="409.3" y1="194.7" x2="415.8" y2="194.7" stroke="#000" stroke-width="1.3" />
<text x="406.8" y="197.6" font-size="8" text-anchor="end" font-weight="bold" fill="#000"  >15</text>
<rect x="425.6" y="293.37" width="15.399999999999977" height="27.829999999999984" fill="#92c5e3" stroke="#000" stroke-width="1.4" />
<line x1="433.3" y1="289.575" x2="433.3" y2="295.9" stroke="#000" stroke-width="1" />
<line x1="429.1" y1="289.575" x2="437.5" y2="289.575" stroke="#000" stroke-width="1" />
<line x1="429.1" y1="295.9" x2="437.5" y2="295.9" stroke="#000" stroke-width="1" />
<circle cx="426.4" cy="289.9" r="1.7" fill="#fff" fill-opacity="0.6" stroke="#000" stroke-width="0.9"/>
<circle cx="439.9" cy="287.8" r="1.7" fill="#fff" fill-opacity="0.6" stroke="#000" stroke-width="0.9"/>
<circle cx="431" cy="290.3" r="1.7" fill="#fff" fill-opacity="0.6" stroke="#000" stroke-width="0.9"/>
<circle cx="435.5" cy="290.5" r="1.7" fill="#fff" fill-opacity="0.6" stroke="#000" stroke-width="0.9"/>
<circle cx="427.5" cy="292.6" r="1.7" fill="#fff" fill-opacity="0.6" stroke="#000" stroke-width="0.9"/>
<circle cx="438.5" cy="292.2" r="1.7" fill="#fff" fill-opacity="0.6" stroke="#000" stroke-width="0.9"/>
<line x1="433.3" y1="321.2" x2="433.3" y2="328.0" stroke="#000" stroke-width="1.3" />
<rect x="451.1" y="268.6603333333333" width="15.399999999999977" height="52.539666666666676" fill="#74a3b3" stroke="#000" stroke-width="1.4" />
<line x1="458.8" y1="254.57666666666665" x2="458.8" y2="280.71999999999997" stroke="#000" stroke-width="1" />
<line x1="454.6" y1="254.57666666666665" x2="463.0" y2="254.57666666666665" stroke="#000" stroke-width="1" />
<line x1="454.6" y1="280.71999999999997" x2="463.0" y2="280.71999999999997" stroke="#000" stroke-width="1" />
<circle cx="458.6" cy="247.3" r="1.7" fill="#fff" fill-opacity="0.6" stroke="#000" stroke-width="0.9"/>
<circle cx="458.6" cy="265.3" r="1.7" fill="#fff" fill-opacity="0.6" stroke="#000" stroke-width="0.9"/>
<circle cx="458.6" cy="269.5" r="1.7" fill="#fff" fill-opacity="0.6" stroke="#000" stroke-width="0.9"/>
<circle cx="458.6" cy="275.4" r="1.7" fill="#fff" fill-opacity="0.6" stroke="#000" stroke-width="0.9"/>
<circle cx="458.6" cy="281.8" r="1.7" fill="#fff" fill-opacity="0.6" stroke="#000" stroke-width="0.9"/>
<line x1="458.8" y1="321.2" x2="458.8" y2="328.0" stroke="#000" stroke-width="1.3" />
<rect x="476.5" y="235.60166666666663" width="15.800000000000011" height="85.59833333333336" fill="#f4a3b9" stroke="#000" stroke-width="1.4" />
<line x1="484.4" y1="230.9633333333333" x2="484.4" y2="239.39666666666665" stroke="#000" stroke-width="1" />
<line x1="480.2" y1="230.9633333333333" x2="488.59999999999997" y2="230.9633333333333" stroke="#000" stroke-width="1" />
<line x1="480.2" y1="239.39666666666665" x2="488.59999999999997" y2="239.39666666666665" stroke="#000" stroke-width="1" />
<circle cx="484.2" cy="228.8" r="1.7" fill="#fff" fill-opacity="0.6" stroke="#000" stroke-width="0.9"/>
<circle cx="481" cy="232.2" r="1.7" fill="#fff" fill-opacity="0.6" stroke="#000" stroke-width="0.9"/>
<circle cx="487.4" cy="232.2" r="1.7" fill="#fff" fill-opacity="0.6" stroke="#000" stroke-width="0.9"/>
<circle cx="481" cy="237.3" r="1.7" fill="#fff" fill-opacity="0.6" stroke="#000" stroke-width="0.9"/>
<circle cx="487.4" cy="236.8" r="1.7" fill="#fff" fill-opacity="0.6" stroke="#000" stroke-width="0.9"/>
<circle cx="484.2" cy="235" r="1.7" fill="#fff" fill-opacity="0.6" stroke="#000" stroke-width="0.9"/>
<line x1="484.4" y1="321.2" x2="484.4" y2="328.0" stroke="#000" stroke-width="1.3" />
<rect x="502.4" y="254.57666666666665" width="15.100000000000023" height="66.62333333333333" fill="#daa6cc" stroke="#000" stroke-width="1.4" />
<line x1="509.95" y1="241.08333333333331" x2="509.95" y2="266.3833333333333" stroke="#000" stroke-width="1" />
<line x1="505.75" y1="241.08333333333331" x2="514.15" y2="241.08333333333331" stroke="#000" stroke-width="1" />
<line x1="505.75" y1="266.3833333333333" x2="514.15" y2="266.3833333333333" stroke="#000" stroke-width="1" />
<circle cx="510" cy="233.7" r="1.7" fill="#fff" fill-opacity="0.6" stroke="#000" stroke-width="0.9"/>
<circle cx="510" cy="252.1" r="1.7" fill="#fff" fill-opacity="0.6" stroke="#000" stroke-width="0.9"/>
<circle cx="510" cy="256.1" r="1.7" fill="#fff" fill-opacity="0.6" stroke="#000" stroke-width="0.9"/>
<circle cx="510" cy="261" r="1.7" fill="#fff" fill-opacity="0.6" stroke="#000" stroke-width="0.9"/>
<circle cx="510" cy="267.9" r="1.7" fill="#fff" fill-opacity="0.6" stroke="#000" stroke-width="0.9"/>
<line x1="509.95" y1="321.2" x2="509.95" y2="328.0" stroke="#000" stroke-width="1.3" />
<path d="M415.8 194.7 V321.2 H526.5" fill="none" stroke="#000" stroke-width="1.4"/>
<path d="M432.6 200.5 V197.5 H509.4 V200.5" fill="none" stroke="#444" stroke-width="1"/>
<text x="451.3" y="194.1" font-size="9" font-weight="bold" fill="#222">**</text>
<text x="458.9" y="195.5" font-size="6.8" fill="#333"><tspan font-style="italic">P</tspan> = 0.0055</text>
<path d="M432.6 212.3 V209.3 H483.5 V212.3" fill="none" stroke="#444" stroke-width="1"/>
<text x="438.8" y="205.9" font-size="9" font-weight="bold" fill="#222">**</text>
<text x="446.4" y="207.3" font-size="6.8" fill="#333"><tspan font-style="italic">P</tspan> = 0.0011</text>
<path d="M458.5 224.5 V221.5 H483.5 V224.5" fill="none" stroke="#444" stroke-width="1"/>
<text x="447.3" y="218.0" font-size="9" font-weight="bold" fill="#222">**</text>
<text x="455.5" y="219.4" font-size="6.8" fill="#333"><tspan font-style="italic">P</tspan> = 0.0089</text>
<path d="M432.6 239.9 V237.3 H457.2 V239.9" fill="none" stroke="#444" stroke-width="1"/>
<text x="427" y="233.5" font-size="9" font-weight="bold" fill="#222">*</text>
<text x="430.9" y="234.9" font-size="6.8" fill="#333"><tspan font-style="italic">P</tspan> = 0.0291</text>
<text x="0" y="0" font-size="8" text-anchor="middle" font-weight="bold" fill="#000"  transform="translate(383,259.6) rotate(-90)">Reprogramming</text>
<text x="0" y="0" font-size="8" text-anchor="middle" font-weight="bold" fill="#000"  transform="translate(393,259.6) rotate(-90)">efficiency (%)</text>
<text x="383.5" y="338.6" font-size="8" text-anchor="start" font-weight="bold" fill="#000"  >siNeg</text>
<text x="383.5" y="353.2" font-size="8" text-anchor="start" font-weight="bold" fill="#000"  >siLaminA</text>
<text x="433.3" y="339.2" font-size="10" text-anchor="middle" font-weight="bold" fill="#000"  >+</text>
<text x="433.3" y="353.8" font-size="10" text-anchor="middle" font-weight="bold" fill="#000"  >-</text>
<text x="458.8" y="339.2" font-size="10" text-anchor="middle" font-weight="bold" fill="#000"  >-</text>
<text x="458.8" y="353.8" font-size="10" text-anchor="middle" font-weight="bold" fill="#000"  >+</text>
<text x="484.4" y="339.2" font-size="10" text-anchor="middle" font-weight="bold" fill="#000"  >+</text>
<text x="484.4" y="353.8" font-size="10" text-anchor="middle" font-weight="bold" fill="#000"  >-</text>
<text x="510" y="339.2" font-size="10" text-anchor="middle" font-weight="bold" fill="#000"  >-</text>
<text x="510" y="353.8" font-size="10" text-anchor="middle" font-weight="bold" fill="#000"  >+</text>
<line x1="427.2" y1="358.4" x2="464.6" y2="358.4" stroke="#000" stroke-width="1.3" />
<line x1="477" y1="358.4" x2="516.7" y2="358.4" stroke="#000" stroke-width="1.3" />
<text x="445.9" y="371" font-size="8" text-anchor="middle" font-weight="bold" fill="#000"  >Elastic</text>
<text x="496.8" y="371" font-size="8" text-anchor="middle" font-weight="bold" fill="#000"  >Viscoelastic</text>
<text x="528.6" y="200.7" font-size="13" text-anchor="start" font-weight="bold" fill="#000"  >h</text>
<line x1="569.2" y1="331.9" x2="575" y2="331.9" stroke="#000" stroke-width="1.3" />
<text x="566" y="334.79999999999995" font-size="8" text-anchor="end" font-weight="bold" fill="#000"  >0</text>
<line x1="569.2" y1="306.85999999999996" x2="575" y2="306.85999999999996" stroke="#000" stroke-width="1.3" />
<text x="566" y="309.75999999999993" font-size="8" text-anchor="end" font-weight="bold" fill="#000"  >2</text>
<line x1="569.2" y1="281.82" x2="575" y2="281.82" stroke="#000" stroke-width="1.3" />
<text x="566" y="284.71999999999997" font-size="8" text-anchor="end" font-weight="bold" fill="#000"  >4</text>
<line x1="569.2" y1="256.78" x2="575" y2="256.78" stroke="#000" stroke-width="1.3" />
<text x="566" y="259.67999999999995" font-size="8" text-anchor="end" font-weight="bold" fill="#000"  >6</text>
<line x1="569.2" y1="231.73999999999998" x2="575" y2="231.73999999999998" stroke="#000" stroke-width="1.3" />
<text x="566" y="234.64" font-size="8" text-anchor="end" font-weight="bold" fill="#000"  >8</text>
<line x1="569.2" y1="206.7" x2="575" y2="206.7" stroke="#000" stroke-width="1.3" />
<text x="566" y="209.6" font-size="8" text-anchor="end" font-weight="bold" fill="#000"  >10</text>
<rect x="585" y="299.0976" width="14.899999999999977" height="32.80239999999998" fill="#92c5e3" stroke="#000" stroke-width="1.4" />
<line x1="592.45" y1="292.462" x2="592.45" y2="305.60799999999995" stroke="#000" stroke-width="1" />
<line x1="588.25" y1="292.462" x2="596.6500000000001" y2="292.462" stroke="#000" stroke-width="1" />
<line x1="588.25" y1="305.60799999999995" x2="596.6500000000001" y2="305.60799999999995" stroke="#000" stroke-width="1" />
<circle cx="592.2" cy="288.6" r="1.7" fill="#fff" fill-opacity="0.6" stroke="#000" stroke-width="0.9"/>
<circle cx="598.2" cy="295.5" r="1.7" fill="#fff" fill-opacity="0.6" stroke="#000" stroke-width="0.9"/>
<circle cx="587" cy="303.7" r="1.7" fill="#fff" fill-opacity="0.6" stroke="#000" stroke-width="0.9"/>
<circle cx="592.2" cy="302.3" r="1.7" fill="#fff" fill-opacity="0.6" stroke="#000" stroke-width="0.9"/>
<circle cx="597.5" cy="303.2" r="1.7" fill="#fff" fill-opacity="0.6" stroke="#000" stroke-width="0.9"/>
<line x1="592.45" y1="331.9" x2="592.45" y2="338.4" stroke="#000" stroke-width="1.3" />
<rect x="610.5" y="270.55199999999996" width="14.600000000000023" height="61.34800000000001" fill="#74a3b3" stroke="#000" stroke-width="1.4" />
<line x1="617.8" y1="252.39799999999997" x2="617.8" y2="286.828" stroke="#000" stroke-width="1" />
<line x1="613.5999999999999" y1="252.39799999999997" x2="622.0" y2="252.39799999999997" stroke="#000" stroke-width="1" />
<line x1="613.5999999999999" y1="286.828" x2="622.0" y2="286.828" stroke="#000" stroke-width="1" />
<circle cx="617.6" cy="239.2" r="1.7" fill="#fff" fill-opacity="0.6" stroke="#000" stroke-width="0.9"/>
<circle cx="617.6" cy="268" r="1.7" fill="#fff" fill-opacity="0.6" stroke="#000" stroke-width="0.9"/>
<circle cx="611.6" cy="276.6" r="1.7" fill="#fff" fill-opacity="0.6" stroke="#000" stroke-width="0.9"/>
<circle cx="611.6" cy="282.1" r="1.7" fill="#fff" fill-opacity="0.6" stroke="#000" stroke-width="0.9"/>
<circle cx="623.6" cy="280.4" r="1.7" fill="#fff" fill-opacity="0.6" stroke="#000" stroke-width="0.9"/>
<line x1="617.8" y1="331.9" x2="617.8" y2="338.4" stroke="#000" stroke-width="1.3" />
<rect x="635.4" y="251.772" width="14.800000000000068" height="80.12799999999999" fill="#f4a3b9" stroke="#000" stroke-width="1.4" />
<line x1="642.8" y1="244.3852" x2="642.8" y2="257.0304" stroke="#000" stroke-width="1" />
<line x1="638.5999999999999" y1="244.3852" x2="647.0" y2="244.3852" stroke="#000" stroke-width="1" />
<line x1="638.5999999999999" y1="257.0304" x2="647.0" y2="257.0304" stroke="#000" stroke-width="1" />
<circle cx="642.8" cy="239.7" r="1.7" fill="#fff" fill-opacity="0.6" stroke="#000" stroke-width="0.9"/>
<circle cx="636.8" cy="249.5" r="1.7" fill="#fff" fill-opacity="0.6" stroke="#000" stroke-width="0.9"/>
<circle cx="648.8" cy="253.5" r="1.7" fill="#fff" fill-opacity="0.6" stroke="#000" stroke-width="0.9"/>
<circle cx="637.6" cy="256" r="1.7" fill="#fff" fill-opacity="0.6" stroke="#000" stroke-width="0.9"/>
<circle cx="642.8" cy="256" r="1.7" fill="#fff" fill-opacity="0.6" stroke="#000" stroke-width="0.9"/>
<line x1="642.8" y1="331.9" x2="642.8" y2="338.4" stroke="#000" stroke-width="1.3" />
<rect x="660.8" y="238.62599999999998" width="14.600000000000023" height="93.274" fill="#daa6cc" stroke="#000" stroke-width="1.4" />
<line x1="668.0999999999999" y1="227.98399999999998" x2="668.0999999999999" y2="246.76399999999998" stroke="#000" stroke-width="1" />
<line x1="663.8999999999999" y1="227.98399999999998" x2="672.3" y2="227.98399999999998" stroke="#000" stroke-width="1" />
<line x1="663.8999999999999" y1="246.76399999999998" x2="672.3" y2="246.76399999999998" stroke="#000" stroke-width="1" />
<circle cx="667.7" cy="223.8" r="1.7" fill="#fff" fill-opacity="0.6" stroke="#000" stroke-width="0.9"/>
<circle cx="662.2" cy="236.3" r="1.7" fill="#fff" fill-opacity="0.6" stroke="#000" stroke-width="0.9"/>
<circle cx="674.2" cy="235.1" r="1.7" fill="#fff" fill-opacity="0.6" stroke="#000" stroke-width="0.9"/>
<circle cx="667.7" cy="243.2" r="1.7" fill="#fff" fill-opacity="0.6" stroke="#000" stroke-width="0.9"/>
<circle cx="667.7" cy="248.8" r="1.7" fill="#fff" fill-opacity="0.6" stroke="#000" stroke-width="0.9"/>
<line x1="668.0999999999999" y1="331.9" x2="668.0999999999999" y2="338.4" stroke="#000" stroke-width="1.3" />
<path d="M575 206.7 V331.9 H685" fill="none" stroke="#000" stroke-width="1.4"/>
<path d="M593.2 200.6 V197.6 H668.2 V200.6" fill="none" stroke="#444" stroke-width="1"/>
<text x="609.4" y="194.0" font-size="9" font-weight="bold" fill="#222">**</text>
<text x="617.8" y="195.4" font-size="6.8" fill="#333"><tspan font-style="italic">P</tspan> = 0.0022</text>
<path d="M618.7 211.5 V208.5 H668.2 V211.5" fill="none" stroke="#444" stroke-width="1"/>
<text x="625.4" y="205.1" font-size="9" font-weight="bold" fill="#222">*</text>
<text x="629.1" y="206.5" font-size="6.8" fill="#333"><tspan font-style="italic">P</tspan> = 0.0242</text>
<path d="M592.7 223.3 V220.3 H643 V223.3" fill="none" stroke="#444" stroke-width="1"/>
<text x="598.2" y="216.79999999999998" font-size="9" font-weight="bold" fill="#222">**</text>
<text x="606.1" y="218.2" font-size="6.8" fill="#333"><tspan font-style="italic">P</tspan> = 0.0056</text>
<path d="M592.7 236.2 V233.7 H617.5 V236.2" fill="none" stroke="#444" stroke-width="1"/>
<text x="586.8" y="229.79999999999998" font-size="9" font-weight="bold" fill="#222">*</text>
<text x="590.5" y="231.2" font-size="6.8" fill="#333"><tspan font-style="italic">P</tspan> = 0.0366</text>
<text x="0" y="0" font-size="8" text-anchor="middle" font-weight="bold" fill="#000"  transform="translate(544.4,271) rotate(-90)">Reprogramming</text>
<text x="0" y="0" font-size="8" text-anchor="middle" font-weight="bold" fill="#000"  transform="translate(554,271) rotate(-90)">efficiency (%)</text>
<text x="562.5" y="350" font-size="8" text-anchor="start" font-weight="bold" fill="#000"  >VPA</text>
<text x="592.2" y="350.6" font-size="10" text-anchor="middle" font-weight="bold" fill="#000"  >-</text>
<text x="617.6" y="350.6" font-size="10" text-anchor="middle" font-weight="bold" fill="#000"  >+</text>
<text x="642.8" y="350.6" font-size="10" text-anchor="middle" font-weight="bold" fill="#000"  >-</text>
<text x="667.7" y="350.6" font-size="10" text-anchor="middle" font-weight="bold" fill="#000"  >+</text>
<line x1="586.5" y1="355.5" x2="624" y2="355.5" stroke="#000" stroke-width="1.3" />
<line x1="637.6" y1="355.5" x2="675.9" y2="355.5" stroke="#000" stroke-width="1.3" />
<text x="605.5" y="368.5" font-size="8" text-anchor="middle" font-weight="bold" fill="#000"  >Elastic</text>
<text x="656.2" y="368.5" font-size="8" text-anchor="middle" font-weight="bold" fill="#000"  >Viscoelastic</text>
<defs>
<linearGradient id="cellg1" x1="0" y1="0" x2="1" y2="1"><stop offset="0" stop-color="#f7dccb"/><stop offset="0.55" stop-color="#f6c5ba"/><stop offset="1" stop-color="#f5b3ad"/></linearGradient>
<linearGradient id="cellg2" x1="0" y1="0.2" x2="0.85" y2="1"><stop offset="0" stop-color="#f9e2cf"/><stop offset="0.5" stop-color="#f7d0c3"/><stop offset="1" stop-color="#f5b9b2"/></linearGradient>
<linearGradient id="pinkfade" x1="0" y1="0" x2="0" y2="1"><stop offset="0" stop-color="#f7a5c9"/><stop offset="0.75" stop-color="#f7b0cf"/><stop offset="1" stop-color="#f6dde8"/></linearGradient>
</defs>
<text x="47.6" y="400.6" font-size="13" text-anchor="start" font-weight="bold" fill="#000"  >i</text>
<rect x="59.4" y="440" width="88.5" height="37" fill="#ddeefa" stroke="#c3def4" stroke-width="0.8" />
<text x="103.6" y="452.3" font-size="8.1" text-anchor="middle" font-weight="normal" fill="#222"  >Less cell spreading</text>
<text x="103.6" y="462.2" font-size="8.1" text-anchor="middle" font-weight="normal" fill="#222"  >Small nucleus</text>
<text x="103.6" y="472" font-size="8.1" text-anchor="middle" font-weight="normal" fill="#222"  >Less wrinkled nucleus</text>
<rect x="513" y="439.7" width="119.89999999999998" height="35.69999999999999" fill="#ddeefa" stroke="#c3def4" stroke-width="0.8" />
<text x="572.9" y="449.9" font-size="8.1" text-anchor="middle" font-weight="normal" fill="#222"  >Compacted chromatin</text>
<text x="572.9" y="459.8" font-size="8.1" text-anchor="middle" font-weight="normal" fill="#222"  >Slow chromatin dynamics</text>
<text x="572.9" y="469.6" font-size="8.1" text-anchor="middle" font-weight="normal" fill="#222"  >Less euchromatic marks</text>
<rect x="55.9" y="592.4" width="95.1" height="37.80000000000007" fill="#fadada" stroke="#f3bcbc" stroke-width="0.8" />
<text x="103.3" y="605.1" font-size="8.1" text-anchor="middle" font-weight="normal" fill="#222"  >Enhanced cell spreading</text>
<text x="103.3" y="614.9" font-size="8.1" text-anchor="middle" font-weight="normal" fill="#222"  >Large nucleus</text>
<text x="103.3" y="624.5" font-size="8.1" text-anchor="middle" font-weight="normal" fill="#222"  >More nuclear wrinkling</text>
<rect x="513" y="588.1" width="119.89999999999998" height="44.60000000000002" fill="#fadada" stroke="#f3bcbc" stroke-width="0.8" />
<text x="572.9" y="599.1" font-size="8.1" text-anchor="middle" font-weight="normal" fill="#222"  >Less dense chromatin</text>
<text x="572.9" y="608.5" font-size="8.1" text-anchor="middle" font-weight="normal" fill="#222"  >Reduced lamin A/C protein</text>
<text x="572.9" y="618.3" font-size="8.1" text-anchor="middle" font-weight="normal" fill="#222"  >Fast chromatin dynamics</text>
<text x="572.9" y="628.2" font-size="8.1" text-anchor="middle" font-weight="normal" fill="#222"  >Increased euchromatic marks</text>
<rect x="189.2" y="403.4" width="120.40000000000003" height="115.0" fill="#fdfbf9" stroke="#a3a3a3" stroke-width="1" stroke-dasharray="2.6 1.6"/>
<path d="M 220.1,409.1 C 234.3,410.4 249.5,415.2 264.7,426.6 C 279.9,438.0 291.3,449.3 297.0,466.4 C 299.8,475.9 299.8,481.6 298.9,487.3" fill="none" stroke="#d8ebcf" stroke-width="1.1" stroke-linecap="round"/>
<path d="M 249.5,409.5 C 241.9,416.1 228.7,419.0 217.3,424.7 C 207.8,430.4 211.6,443.7 215.4,449.3 C 217.3,455.0 209.7,462.6 194.5,468.3" fill="none" stroke="#d8ebcf" stroke-width="1.1" stroke-linecap="round"/>
<path d="M 190.7,427.5 C 198.3,436.1 207.8,439.9 213.5,443.7" fill="none" stroke="#d8ebcf" stroke-width="1.1" stroke-linecap="round"/>
<path d="M 266.6,404.7 C 261.9,411.4 259.0,422.8 259.4,432.3 C 259.8,438.0 260.0,440.8 260.5,444.6" fill="none" stroke="#d8ebcf" stroke-width="1.1" stroke-linecap="round"/>
<path d="M 291.3,416.7 C 281.8,422.8 270.4,430.4 260.9,443.7" fill="none" stroke="#d8ebcf" stroke-width="1.1" stroke-linecap="round"/>
<path d="M 301.2,428.5 C 291.3,433.2 276.1,434.2 260.9,433.8 C 245.7,433.8 234.3,438.0 227.7,447.4 C 224.9,453.1 225.8,456.9 227.7,460.7" fill="none" stroke="#d8ebcf" stroke-width="1.1" stroke-linecap="round"/>
<path d="M 215.4,479.7 C 232.4,489.2 251.4,489.2 266.6,487.3 C 279.9,486.4 291.3,498.7 304.6,489.2" fill="none" stroke="#d8ebcf" stroke-width="1.1" stroke-linecap="round"/>
<path d="M 230.5,479.7 C 234.3,489.2 236.2,498.7 234.3,502.5 C 230.5,508.2 217.3,504.4 204.0,493.0" fill="none" stroke="#d8ebcf" stroke-width="1.1" stroke-linecap="round"/>
<path d="M 249.5,477.8 C 257.1,489.2 264.7,498.7 270.4,505.3 C 276.1,511.0 281.8,512.0 285.6,512.0" fill="none" stroke="#d8ebcf" stroke-width="1.1" stroke-linecap="round"/>
<path d="M 262.8,479.7 C 264.7,491.1 266.6,502.5 268.5,515.8" fill="none" stroke="#d8ebcf" stroke-width="1.1" stroke-linecap="round"/>
<path d="M 190.7,491.1 C 200.2,494.9 205.9,498.7 211.6,506.3" fill="none" stroke="#d8ebcf" stroke-width="1.1" stroke-linecap="round"/>
<path d="M 298.9,447.4 C 302.7,456.9 306.5,462.6 308.4,468.3" fill="none" stroke="#d8ebcf" stroke-width="1.1" stroke-linecap="round"/>
<path d="M 215.4,470.2 C 217.3,458.8 226.8,449.3 241.9,445.5 C 253.3,442.7 266.6,445.5 276.1,448.4 C 283.7,451.2 284.6,460.7 278.0,465.5 C 270.4,471.2 257.1,475.9 241.9,479.7 C 228.7,482.6 213.5,478.8 215.4,470.2 Z" fill="url(#cellg1)"/>
<ellipse cx="249" cy="462.4" rx="11.5" ry="7.6" transform="rotate(-14 249 462.4)" fill="#fbeeec"/>
<rect x="255" y="457.5" width="6.5" height="5" fill="none" stroke="#111" stroke-width="0.9" stroke-dasharray="2 1.3"/>
<path d="M261.5 457.5 L346.2 406.9 M261.5 462.5 L346.2 507.1" fill="none" stroke="#222" stroke-width="0.9" stroke-dasharray="3 1.8"/>
<circle cx="186" cy="513.4" r="26.8" fill="#eef6fd" stroke="#5a5a5a" stroke-width="0.8" stroke-dasharray="2.8 1.5"/>
<path d="M 171.1,510.4 C 174.9,511.8 177.8,512.7 180.1,513.2 C 183.5,514.0 187.3,514.9 190.1,515.6 C 193.9,516.5 198.7,518.0 202.4,522.2" fill="none" stroke="#86c66a" stroke-width="1.25"/>
<path d="M 168.3,522.7 C 173.0,519.9 177.8,517.0 180.1,513.7 C 182.5,509.4 188.2,505.1 196.8,504.2" fill="none" stroke="#86c66a" stroke-width="1.25"/>
<path d="M 175.4,527.0 C 180.6,524.6 186.3,520.8 190.1,515.6 C 193.0,511.3 196.8,508.9 203.9,508.3" fill="none" stroke="#86c66a" stroke-width="1.25"/>
<rect x="178.4" y="512" width="3.4" height="3.4" fill="#8fb9ea"/><rect x="188.4" y="513.9" width="3.4" height="3.4" fill="#8fb9ea"/>
<text x="171" y="498" font-size="4.9" text-anchor="start" font-weight="normal" fill="#333"  >Covalent</text>
<text x="171" y="502.8" font-size="4.9" text-anchor="start" font-weight="normal" fill="#333"  >bond</text>
<line x1="178.5" y1="505.4" x2="178.5" y2="509.6" stroke="#222" stroke-width="0.8" />
<text x="186.8" y="534.8" font-size="6.7" text-anchor="middle" font-weight="normal" fill="#222"  >Elastic</text>
<path d="M388.0,396.0 C386.7,398.3 382.5,404.3 380.0,410.0 C377.5,415.7 374.7,423.3 373.0,430.0 C371.3,436.7 370.4,443.3 370.0,450.0 C369.6,456.7 369.6,463.3 370.4,470.0 C371.2,476.7 372.7,483.3 375.0,490.0 C377.3,496.7 381.5,504.7 384.0,510.0 C386.5,515.3 389.0,520.0 390.0,522.0" fill="none" stroke="#f7c4a0" stroke-width="2.2" stroke-linecap="round"/>
<path d="M397.0,397.0 C395.7,399.2 391.8,404.5 389.0,410.0 C386.2,415.5 382.1,423.3 380.0,430.0 C377.9,436.7 377.1,443.3 376.4,450.0 C375.7,456.7 375.4,463.3 376.0,470.0 C376.6,476.7 378.0,483.7 380.0,490.0 C382.0,496.3 385.7,503.5 388.0,508.0 C390.3,512.5 393.0,515.5 394.0,517.0" fill="none" stroke="url(#pinkfade)" stroke-width="2.2" stroke-linecap="round"/>
<path d="M423.6,394.4 C423.3,395.3 423.9,398.1 422.0,400.0 C420.1,401.9 415.7,404.0 412.0,406.0 C408.3,408.0 404.0,409.3 400.0,412.0 C396.0,414.7 391.0,418.3 388.0,422.0 C385.0,425.7 383.3,430.0 382.0,434.0 C380.7,438.0 380.0,442.7 380.0,446.0 C380.0,449.3 380.3,451.7 382.0,454.0 C383.7,456.3 387.0,458.2 390.0,460.0 C393.0,461.8 397.8,462.7 400.0,465.0 C402.2,467.3 403.0,470.8 403.0,474.0 C403.0,477.2 401.8,481.0 400.0,484.0 C398.2,487.0 394.0,489.3 392.0,492.0 C390.0,494.7 388.3,497.3 388.0,500.0 C387.7,502.7 388.3,506.0 390.0,508.0 C391.7,510.0 394.7,511.7 398.0,512.0 C401.3,512.3 405.7,509.8 410.0,510.0 C414.3,510.2 421.7,512.5 424.0,513.0" fill="none" stroke="#959595" stroke-width="1.3" stroke-linecap="round"/>
<path d="M 434.3,411.0 C 429.0,410.4 423.8,410.4 422.0,412.0 C 420.7,413.8 421.2,416.4 423.8,418.1 C 426.9,420.3 427.7,424.3 425.5,427.3 C 423.8,429.1 421.2,428.6 420.3,426.9 C 419.4,424.7 420.3,420.8 417.7,418.1 C 415.0,415.9 408.9,415.9 406.3,418.1 C 403.6,420.8 404.5,426.0 408.0,429.1 C 411.5,431.3 415.9,430.8 416.3,427.8 C 416.8,424.7 414.2,423.0 411.5,423.8 C 409.3,424.7 409.3,427.8 410.2,430.0 C 411.1,431.7 412.4,433.0 413.3,434.8 C 414.6,437.0 415.9,440.0 417.7,442.7 C 419.4,444.9 422.0,446.2 424.7,445.3" fill="none" stroke="#98b8e2" stroke-width="1.25" stroke-linecap="round" stroke-linejoin="round"/>
<path d="M 393.6,432.2 C 396.6,430.4 400.1,430.0 402.8,431.7 C 405.4,433.5 408.0,433.9 410.7,433.9" fill="none" stroke="#98b8e2" stroke-width="1.25" stroke-linecap="round" stroke-linejoin="round"/>
<path d="M 384.4,443.1 C 387.0,446.2 389.6,449.7 392.3,450.5 C 394.9,451.0 395.8,447.9 396.6,445.3 C 397.5,442.7 401.0,440.5 404.5,440.9 C 407.2,441.3 406.3,444.4 403.6,446.2 C 401.0,447.9 400.1,451.4 401.0,454.9 C 402.3,458.4 406.3,459.7 410.7,459.3 C 413.3,458.9 414.6,456.7 415.0,453.2 C 415.5,449.7 413.3,446.2 410.7,445.3 C 408.0,444.9 406.3,447.0 406.7,449.7 C 407.2,452.3 409.8,453.6 412.4,452.7 C 415.0,451.9 416.8,448.8 418.5,449.7 C 420.3,450.5 421.2,454.0 421.2,458.4" fill="none" stroke="#98b8e2" stroke-width="1.25" stroke-linecap="round" stroke-linejoin="round"/>
<path d="M 415.0,435.7 C 417.6,441.8 422.0,445.3 426.4,446.2 M 423.8,433.9 C 428.1,431.3 436.0,431.3 438.6,434.8 C 441.3,438.3 438.6,443.5 435.1,445.3 C 431.6,447.0 428.1,445.3 427.3,442.7 C 426.4,440.0 429.9,438.3 433.4,439.2 C 436.0,440.0 436.9,442.7 435.1,444.4" fill="none" stroke="#98b8e2" stroke-width="1.25" stroke-linecap="round" stroke-linejoin="round"/>
<path d="M 443.9,432.2 C 443.0,435.7 442.2,438.3 438.6,444.4 C 436.0,447.9 432.5,449.7 428.1,454.0 C 425.5,456.7 426.4,459.3 427.3,462.8" fill="none" stroke="#98b8e2" stroke-width="1.25" stroke-linecap="round" stroke-linejoin="round"/>
<path d="M 460.1,443.1 C 457.9,441.8 456.2,440.5 451.3,437.8 C 449.2,436.7 447.4,436.1 445.7,437.8 C 444.3,439.6 446.5,442.7 445.7,445.3 C 444.8,447.9 441.3,449.2 438.6,449.7 C 436.0,450.1 434.3,449.2 432.5,450.5 C 429.9,452.3 429.0,455.8 430.8,459.3" fill="none" stroke="#98b8e2" stroke-width="1.25" stroke-linecap="round" stroke-linejoin="round"/>
<path d="M 440.4,450.5 C 441.1,454.0 441.1,457.6 440.0,462.8" fill="none" stroke="#98b8e2" stroke-width="1.25" stroke-linecap="round" stroke-linejoin="round"/>
<path d="M 417.8,461.4 C 417.6,464.9 415.7,467.5 413.0,468.8 C 410.4,470.6 409.1,473.6 410.4,476.3 C 411.3,478.9 409.5,482.4 412.2,484.6 C 414.8,485.9 417.4,483.7 416.5,481.1 C 415.7,478.5 412.2,478.0 410.4,480.2" fill="none" stroke="#98b8e2" stroke-width="1.25" stroke-linecap="round" stroke-linejoin="round"/>
<path d="M 418.3,467.5 C 420.0,466.2 423.5,467.1 426.2,470.1 C 428.8,472.3 434.0,470.6 436.7,468.4 C 439.3,465.8 441.1,461.4 440.6,456.1 C 440.4,453.5 440.2,451.8 439.7,450.0" fill="none" stroke="#98b8e2" stroke-width="1.25" stroke-linecap="round" stroke-linejoin="round"/>
<path d="M 418.3,471.9 C 418.7,476.3 421.8,479.3 426.2,477.2 C 428.8,475.8 431.4,477.2 430.5,480.7 C 429.2,485.0 426.2,487.7 423.5,492.0 C 421.8,494.7 418.3,496.0 414.8,495.5 C 411.3,495.1 408.2,492.9 408.6,489.4 C 409.1,486.8 413.0,486.3 417.4,488.5 C 420.0,489.4 421.8,488.5 422.7,487.2" fill="none" stroke="#98b8e2" stroke-width="1.25" stroke-linecap="round" stroke-linejoin="round"/>
<path d="M 422.7,495.5 C 423.7,499.0 422.7,502.6 419.6,507.4" fill="none" stroke="#98b8e2" stroke-width="1.25" stroke-linecap="round" stroke-linejoin="round"/>
<path d="M 400.8,451.8 C 401.6,456.1 404.3,458.8 407.8,459.3 C 411.3,459.6 414.3,457.4 415.2,453.9 C 415.7,451.8 415.2,450.4 414.8,450.0" fill="none" stroke="#98b8e2" stroke-width="1.25" stroke-linecap="round" stroke-linejoin="round"/>
<path d="M 421.8,451.8 C 420.5,456.1 421.8,461.4 425.3,463.1 C 428.8,464.0 431.4,461.4 432.3,458.3 C 433.0,455.3 430.5,453.5 427.9,454.2 C 425.3,454.9 424.4,457.4 426.2,459.6" fill="none" stroke="#98b8e2" stroke-width="1.25" stroke-linecap="round" stroke-linejoin="round"/>
<circle cx="451.1" cy="437.5" r="1.4" fill="#5ad4ea"/>
<circle cx="411.7" cy="459.1" r="1.4" fill="#5ad4ea"/>
<polygon points="432.5,430.3 435.90000000000003,430.5 434.40000000000003,427.3" fill="#f07b2b"/>
<polygon points="439.5,464.3 442.90000000000003,464.5 441.40000000000003,461.3" fill="#f07b2b"/>
<polygon points="418.5,485.4 421.90000000000003,485.59999999999997 420.40000000000003,482.4" fill="#f07b2b"/>
<text x="462.8" y="416" font-size="8.1" text-anchor="middle" font-weight="normal" fill="#222"  >Euchromatic</text>
<text x="463.2" y="423.9" font-size="8.1" text-anchor="middle" font-weight="normal" fill="#222"  >mark</text>
<line x1="458.2" y1="427.1" x2="452.1" y2="436.1" stroke="#222" stroke-width="0.9" />
<text x="439.1" y="493.9" font-size="8.1" text-anchor="start" font-weight="normal" fill="#222"  >Chromatin</text>
<line x1="426.1" y1="491.2" x2="438.1" y2="491.2" stroke="#222" stroke-width="0.9" />
<text x="345.2" y="467.5" font-size="8.1" text-anchor="middle" font-weight="normal" fill="#222"  >Nuclear</text>
<text x="345.2" y="475.6" font-size="8.1" text-anchor="middle" font-weight="normal" fill="#222"  >lamina</text>
<line x1="360.5" y1="470.1" x2="376" y2="470.1" stroke="#222" stroke-width="0.9" />
<rect x="189.2" y="556.3" width="120.40000000000003" height="114.80000000000007" fill="#fdfbf9" stroke="#a3a3a3" stroke-width="1" stroke-dasharray="2.6 1.6"/>
<path d="M 190.7,581.3 C 200.2,581.3 205.9,586.1 208.7,595.5 C 211.6,605.0 217.3,610.7 224.9,614.5" fill="none" stroke="#d8ebcf" stroke-width="1.1" stroke-linecap="round"/>
<path d="M 190.7,606.9 C 202.1,605.0 213.5,597.4 223.0,588.0 C 232.4,580.4 241.9,576.6 249.5,575.6" fill="none" stroke="#d8ebcf" stroke-width="1.1" stroke-linecap="round"/>
<path d="M 257.1,557.6 C 245.7,563.3 232.4,565.2 221.1,570.9 C 213.5,575.6 209.7,582.3 208.7,589.9" fill="none" stroke="#d8ebcf" stroke-width="1.1" stroke-linecap="round"/>
<path d="M 268.5,557.6 C 262.8,567.1 260.9,578.5 261.9,588.0" fill="none" stroke="#d8ebcf" stroke-width="1.1" stroke-linecap="round"/>
<path d="M 282.7,557.6 C 276.1,568.0 264.7,572.8 251.4,576.6 C 238.1,580.4 226.8,586.1 222.0,597.4 C 219.2,606.9 223.0,616.4 229.6,624.0" fill="none" stroke="#d8ebcf" stroke-width="1.1" stroke-linecap="round"/>
<path d="M 283.7,591.8 C 295.1,596.5 303.6,605.0 308.4,614.5" fill="none" stroke="#d8ebcf" stroke-width="1.1" stroke-linecap="round"/>
<path d="M 190.7,612.6 C 198.3,624.0 205.9,633.5 215.4,640.1 C 224.9,644.9 232.4,652.5 234.3,656.3" fill="none" stroke="#d8ebcf" stroke-width="1.1" stroke-linecap="round"/>
<path d="M 238.1,635.4 C 234.3,648.7 228.7,660.1 217.3,666.7 C 214.4,668.6 212.5,669.6 211.6,669.9" fill="none" stroke="#d8ebcf" stroke-width="1.1" stroke-linecap="round"/>
<path d="M 253.3,636.4 C 257.1,646.8 266.6,652.5 279.9,656.3 C 289.4,660.1 295.1,665.8 298.9,669.9" fill="none" stroke="#d8ebcf" stroke-width="1.1" stroke-linecap="round"/>
<path d="M 266.6,639.2 C 268.5,652.5 270.4,663.9 271.4,670.5" fill="none" stroke="#d8ebcf" stroke-width="1.1" stroke-linecap="round"/>
<path d="M 279.9,635.4 C 291.3,629.7 300.8,626.9 309.3,629.7" fill="none" stroke="#d8ebcf" stroke-width="1.1" stroke-linecap="round"/>
<path d="M 217.3,641.1 C 230.5,648.7 245.7,653.4 259.0,653.4 C 270.4,653.4 278.0,646.8 281.8,639.2" fill="none" stroke="#d8ebcf" stroke-width="1.1" stroke-linecap="round"/>
<path d="M 291.3,618.3 C 298.9,622.1 304.6,625.9 308.4,625.9" fill="none" stroke="#d8ebcf" stroke-width="1.1" stroke-linecap="round"/>
<path d="M196.7,645.6 C205,636 215,626 221,617 C228,606 232,598 238,592 C245,586 255,584 262,582 C275,578 290,572 305,563.4 C295,578 282,590 276,602 C271,614 273,628 279,640 C283,648 286,653 287.3,656.5 C280,648 272,640 262,635 C250,631 235,633 225,636 C215,640 205,643 196.7,645.6 Z" fill="url(#cellg2)"/>
<ellipse cx="251.4" cy="609.5" rx="17.5" ry="11.5" transform="rotate(-62 251.4 609.5)" fill="#f9efec"/>
<path d="M 241.9,612.6 C 245.7,606.9 249.5,603.1 251.4,597.4 M 245.7,624.0 C 243.8,618.3 247.6,612.6 251.4,608.8 C 253.3,605.0 255.2,601.2 257.1,598.4 M 251.4,620.2 C 253.3,614.5 255.2,610.7 259.0,606.9" fill="none" stroke="#dcc8c3" stroke-width="0.9"/>
<rect x="258.5" y="597.6" width="8" height="5" fill="none" stroke="#111" stroke-width="0.9" stroke-dasharray="2 1.3"/>
<path d="M266.5 597.6 L358.5 563.4 M266.5 602.6 L352.3 670.7" fill="none" stroke="#222" stroke-width="0.9" stroke-dasharray="3 1.8"/>
<circle cx="185.9" cy="671.8" r="26.6" fill="#fdf1f1" stroke="#5a5a5a" stroke-width="0.8" stroke-dasharray="2.8 1.5"/>
<path d="M162.1 671.3 H170.2 M200.8 671.3 H209.1 M170.20,671.30 L170.80,672.09 L171.40,672.85 L172.00,673.56 L172.60,674.20 L173.20,674.73 L173.80,675.15 L174.40,675.44 L175.00,675.58 L175.60,675.58 L176.20,675.44 L176.80,675.15 L177.40,674.73 L178.00,674.20 L178.60,673.56 L179.20,672.85 L179.80,672.09 L180.40,671.30 L181.00,670.51 L181.60,669.75 L182.20,669.04 L182.80,668.40 L183.40,667.87 L184.00,667.45 L184.60,667.16 L185.20,667.02 L185.80,667.02 L186.40,667.16 L187.00,667.45 L187.60,667.87 L188.20,668.40 L188.80,669.04 L189.40,669.75 L190.00,670.51 L190.60,671.30 L191.20,672.09 L191.80,672.85 L192.40,673.56 L193.00,674.20 L193.60,674.73 L194.20,675.15 L194.80,675.44 L195.40,675.58 L196.00,675.58 L196.60,675.44 L197.20,675.15 L197.80,674.73 L198.40,674.20 L199.00,673.56 L199.60,672.85 L200.20,672.09 L200.80,671.30 M170.20,671.30 L170.80,670.51 L171.40,669.75 L172.00,669.04 L172.60,668.40 L173.20,667.87 L173.80,667.45 L174.40,667.16 L175.00,667.02 L175.60,667.02 L176.20,667.16 L176.80,667.45 L177.40,667.87 L178.00,668.40 L178.60,669.04 L179.20,669.75 L179.80,670.51 L180.40,671.30 L181.00,672.09 L181.60,672.85 L182.20,673.56 L182.80,674.20 L183.40,674.73 L184.00,675.15 L184.60,675.44 L185.20,675.58 L185.80,675.58 L186.40,675.44 L187.00,675.15 L187.60,674.73 L188.20,674.20 L188.80,673.56 L189.40,672.85 L190.00,672.09 L190.60,671.30 L191.20,670.51 L191.80,669.75 L192.40,669.04 L193.00,668.40 L193.60,667.87 L194.20,667.45 L194.80,667.16 L195.40,667.02 L196.00,667.02 L196.60,667.16 L197.20,667.45 L197.80,667.87 L198.40,668.40 L199.00,669.04 L199.60,669.75 L200.20,670.51 L200.80,671.30" fill="none" stroke="#8fcf7f" stroke-width="1.2" stroke-linejoin="round"/>
<circle cx="175.4" cy="671.4" r="2.4" fill="#f7a9b4"/>
<circle cx="185.4" cy="671.4" r="2.4" fill="#f7a9b4"/>
<text x="173" y="658" font-size="5.4" text-anchor="start" font-weight="normal" fill="#333"  >Ca<tspan font-size="3.2" dy="-1.6">2+</tspan></text>
<line x1="180.1" y1="661.4" x2="183.5" y2="666.6" stroke="#222" stroke-width="0.8" />
<text x="186.1" y="686.5" font-size="6.7" text-anchor="middle" font-weight="normal" fill="#222"  >Viscoelastic</text>
<path d="M391.0,555.0 C390.0,557.2 387.3,562.5 385.0,568.0 C382.7,573.5 378.9,581.3 377.0,588.0 C375.1,594.7 374.1,601.3 373.6,608.0 C373.1,614.7 373.3,621.3 374.0,628.0 C374.7,634.7 375.8,641.3 378.0,648.0 C380.2,654.7 384.7,662.7 387.0,668.0 C389.3,673.3 391.2,678.0 392.0,680.0" fill="none" stroke="#f7c4a0" stroke-width="2.2" stroke-linecap="round"/>
<path d="M401.0,555.6 C399.7,557.7 395.8,562.6 393.0,568.0 C390.2,573.4 386.2,581.3 384.0,588.0 C381.8,594.7 380.7,601.3 380.0,608.0 C379.3,614.7 379.3,621.3 380.0,628.0 C380.7,634.7 382.0,641.3 384.0,648.0 C386.0,654.7 389.8,663.5 392.0,668.0 C394.2,672.5 396.2,673.8 397.0,675.0" fill="none" stroke="url(#pinkfade)" stroke-width="2.2" stroke-linecap="round"/>
<path d="M423.6,554.0 C423.3,555.2 423.9,559.0 422.0,561.0 C420.1,563.0 416.0,563.8 412.0,566.0 C408.0,568.2 402.0,571.0 398.0,574.0 C394.0,577.0 390.5,580.3 388.0,584.0 C385.5,587.7 383.8,592.0 383.0,596.0 C382.2,600.0 382.3,604.7 383.0,608.0 C383.7,611.3 384.5,613.5 387.0,616.0 C389.5,618.5 394.8,620.7 398.0,623.0 C401.2,625.3 404.3,627.2 406.0,630.0 C407.7,632.8 408.3,637.0 408.0,640.0 C407.7,643.0 406.0,645.3 404.0,648.0 C402.0,650.7 397.7,653.3 396.0,656.0 C394.3,658.7 393.7,661.5 394.0,664.0 C394.3,666.5 395.7,669.5 398.0,671.0 C400.3,672.5 404.3,672.8 408.0,673.0 C411.7,673.2 416.5,672.4 420.0,672.4 C423.5,672.4 427.5,672.9 429.0,673.0" fill="none" stroke="#959595" stroke-width="1.3" stroke-linecap="round"/>
<path d="M 438.9,564.7 C 441.0,562.6 447.2,562.0 451.3,562.6 C 454.5,563.1 456.5,563.7 457.6,563.3" fill="none" stroke="#98b8e2" stroke-width="1.25" stroke-linecap="round" stroke-linejoin="round"/>
<path d="M 438.9,564.7 C 437.8,567.8 438.9,572.0 442.0,576.1 C 445.1,580.3 447.2,585.5 444.1,588.6 C 439.9,591.7 436.8,586.5 435.8,581.3 C 434.7,576.1 432.7,572.0 428.5,571.6" fill="none" stroke="#98b8e2" stroke-width="1.25" stroke-linecap="round" stroke-linejoin="round"/>
<path d="M 428.5,571.6 C 422.3,570.9 416.1,574.1 414.0,579.3 C 411.9,584.4 414.0,590.7 418.1,591.7 C 422.3,592.7 424.4,588.6 422.3,585.5 C 420.2,582.4 423.3,580.3 426.4,582.4 C 430.6,584.4 431.6,589.6 429.5,593.2 C 427.5,596.9 420.2,597.9 415.0,596.9 C 410.9,596.1 409.4,594.4 408.2,594.4 C 403.6,593.8 400.5,593.2 397.4,595.9" fill="none" stroke="#98b8e2" stroke-width="1.25" stroke-linecap="round" stroke-linejoin="round"/>
<path d="M 399.4,613.5 C 404.6,615.6 409.8,617.7 414.0,619.7 C 418.1,621.8 421.2,619.7 420.2,615.6 C 419.2,611.4 420.2,607.3 422.3,605.2 C 425.4,602.1 429.5,602.1 431.6,605.2 C 433.7,608.3 430.6,611.4 428.5,613.5 C 426.4,616.6 427.5,621.8 431.6,624.9 C 434.7,627.0 438.9,629.1 439.9,629.1 C 444.1,629.1 447.2,626.0 448.2,620.8 C 449.3,615.6 445.1,609.4 439.9,609.4 C 434.7,609.4 433.7,614.5 437.2,616.0 C 441.0,617.7 445.1,614.5 449.3,613.5 C 453.4,612.5 455.5,615.6 457.6,619.7 C 459.6,622.8 462.8,624.9 468.0,626.0" fill="none" stroke="#98b8e2" stroke-width="1.25" stroke-linecap="round" stroke-linejoin="round"/>
<path d="M 428.5,613.5 C 424.4,619.7 420.2,623.9 419.2,628.0 C 418.1,634.3 417.1,640.5 418.1,644.6 C 420.2,648.8 426.4,648.8 429.5,646.7 C 433.7,644.6 431.6,639.5 428.5,640.5 C 423.3,642.6 424.4,649.8 430.6,649.8 C 436.8,649.8 442.0,644.6 441.0,639.5 C 439.9,634.3 434.7,631.2 428.5,632.2 C 422.3,633.2 419.2,636.3 419.2,640.5" fill="none" stroke="#98b8e2" stroke-width="1.25" stroke-linecap="round" stroke-linejoin="round"/>
<path d="M 419.2,648.8 C 414.0,653.0 415.0,658.1 419.2,661.3 C 423.3,664.4 430.6,661.3 434.7,664.4 C 438.9,667.5 441.0,669.6 440.5,673.7 C 439.9,677.9 436.8,681.0 434.7,684.1" fill="none" stroke="#98b8e2" stroke-width="1.25" stroke-linecap="round" stroke-linejoin="round"/>
<circle cx="451.3" cy="562.6" r="1.4" fill="#5ad4ea"/>
<circle cx="430.6" cy="571.6" r="1.4" fill="#5ad4ea"/>
<circle cx="408.2" cy="594.4" r="1.4" fill="#5ad4ea"/>
<circle cx="429.5" cy="593.2" r="1.4" fill="#5ad4ea"/>
<circle cx="420.2" cy="619.3" r="1.4" fill="#5ad4ea"/>
<circle cx="437.2" cy="616.0" r="1.4" fill="#5ad4ea"/>
<circle cx="439.9" cy="629.1" r="1.4" fill="#5ad4ea"/>
<circle cx="429.5" cy="646.7" r="1.4" fill="#5ad4ea"/>
<circle cx="419.2" cy="661.3" r="1.4" fill="#5ad4ea"/>
<circle cx="440.5" cy="669.1" r="1.4" fill="#5ad4ea"/>
<circle cx="464.8" cy="624.3" r="1.4" fill="#5ad4ea"/>
<line x1="438.5" y1="562.0" x2="436.5" y2="559.8" stroke="#f07b2b" stroke-width="1.1"/>
<polygon points="434.7,557.9 437.7,558.7 435.3,560.9" fill="#f07b2b"/>
<line x1="449.3" y1="582.4" x2="452.4" y2="584.9" stroke="#f07b2b" stroke-width="1.1"/>
<polygon points="454.5,586.5 451.4,586.1 453.4,583.6" fill="#f07b2b"/>
<line x1="415.0" y1="584.4" x2="417.8" y2="582.0" stroke="#f07b2b" stroke-width="1.1"/>
<polygon points="419.8,580.3 418.9,583.2 416.8,580.8" fill="#f07b2b"/>
<line x1="397.4" y1="595.9" x2="397.6" y2="598.0" stroke="#f07b2b" stroke-width="1.1"/>
<polygon points="397.8,600.6 396.0,598.2 399.2,597.9" fill="#f07b2b"/>
<line x1="426.0" y1="608.3" x2="426.4" y2="606.1" stroke="#f07b2b" stroke-width="1.1"/>
<polygon points="426.8,603.5 428.0,606.4 424.8,605.8" fill="#f07b2b"/>
<line x1="446.2" y1="606.2" x2="446.2" y2="601.6" stroke="#f07b2b" stroke-width="1.1"/>
<polygon points="446.2,599.0 447.8,601.6 444.6,601.6" fill="#f07b2b"/>
<line x1="415.6" y1="618.7" x2="413.7" y2="616.6" stroke="#f07b2b" stroke-width="1.1"/>
<polygon points="411.9,614.8 414.8,615.5 412.5,617.7" fill="#f07b2b"/>
<line x1="446.2" y1="620.2" x2="443.5" y2="622.0" stroke="#f07b2b" stroke-width="1.1"/>
<polygon points="441.4,623.5 442.6,620.7 444.4,623.3" fill="#f07b2b"/>
<line x1="441.0" y1="637.4" x2="443.3" y2="634.9" stroke="#f07b2b" stroke-width="1.1"/>
<polygon points="445.1,633.0 444.5,636.0 442.2,633.8" fill="#f07b2b"/>
<line x1="418.1" y1="647.8" x2="413.0" y2="649.2" stroke="#f07b2b" stroke-width="1.1"/>
<polygon points="410.4,649.8 412.5,647.6 413.4,650.7" fill="#f07b2b"/>
<line x1="437.8" y1="658.1" x2="443.6" y2="663.6" stroke="#f07b2b" stroke-width="1.1"/>
<polygon points="445.5,665.4 442.5,664.8 444.7,662.5" fill="#f07b2b"/>
<line x1="439.9" y1="676.8" x2="444.6" y2="677.2" stroke="#f07b2b" stroke-width="1.1"/>
<polygon points="447.2,677.4 444.5,678.8 444.7,675.6" fill="#f07b2b"/>
<text x="477.4" y="579.9" font-size="8.1" text-anchor="middle" font-weight="normal" fill="#222"  >Euchromatic</text>
<text x="477.4" y="588.6" font-size="8.1" text-anchor="middle" font-weight="normal" fill="#222"  >mark</text>
<line x1="454.5" y1="565.3" x2="469.6" y2="573" stroke="#222" stroke-width="0.9" />
<text x="457.2" y="649.6" font-size="8.1" text-anchor="start" font-weight="normal" fill="#222"  >Chromatin</text>
<line x1="443" y1="646.3" x2="453.4" y2="646.3" stroke="#222" stroke-width="0.9" />
<text x="348.1" y="630" font-size="8.1" text-anchor="middle" font-weight="normal" fill="#222"  >Nuclear</text>
<text x="348.1" y="638.1" font-size="8.1" text-anchor="middle" font-weight="normal" fill="#222"  >lamina</text>
<line x1="364.2" y1="633.2" x2="379.7" y2="633.2" stroke="#222" stroke-width="0.9" />
</svg></body></html>
